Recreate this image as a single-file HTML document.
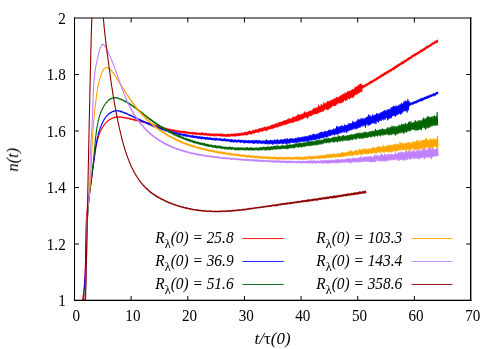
<!DOCTYPE html>
<html>
<head>
<meta charset="utf-8">
<title>n(t) versus t/&tau;(0)</title>
<style>
html,body{margin:0;padding:0;background:#ffffff;}
body{width:498px;height:349px;overflow:hidden;font-family:"Liberation Serif",serif;}
svg{display:block;}
text{font-family:"Liberation Serif",serif;font-size:16px;fill:#000;}
.it{font-style:italic;}
.sub{font-size:12.8px;font-style:normal;}
.up{font-style:normal;}
</style>
</head>
<body>
<svg width="498" height="349" viewBox="0 0 498 349">
<rect x="0" y="0" width="498" height="349" fill="#ffffff"/>
<defs><clipPath id="plotclip"><rect x="74.5" y="18" width="396.5" height="282.5"/></clipPath></defs>
<g clip-path="url(#plotclip)">
<path d="M82.5,300.5L82.6,299.8L82.7,299.1L82.8,298.4L82.9,297.7L83.0,297.0L83.1,296.3L83.2,295.6L83.3,294.9L83.4,294.2L83.5,293.5L83.6,292.8L83.7,292.1L83.8,291.3L83.9,290.6L83.9,289.9L84.0,289.2L84.1,288.5L84.1,287.8L84.2,287.1L84.3,286.4L84.3,285.7L84.4,285.0L84.5,284.3L84.5,283.6L84.6,282.9L84.6,282.2L84.7,281.5L84.7,280.8L84.8,280.1L84.8,279.4L84.9,278.7L84.9,278.0L84.9,277.3L85.0,276.6L85.0,275.9L85.1,275.2L85.1,274.5L85.1,273.8L85.1,273.1L85.2,272.4L85.2,271.7L85.2,271.0L85.3,270.3L85.3,269.6L85.3,268.9L85.3,268.2L85.3,267.5L85.4,266.8L85.4,266.1L85.4,265.4L85.4,264.7L85.4,264.0L85.4,263.3L85.5,262.6L85.5,261.9L85.5,261.2L85.5,260.5L85.5,259.8L85.5,259.1L85.5,258.4L85.5,257.7L85.5,257.0L85.5,256.3L85.5,255.6L85.6,254.9L85.6,254.2L85.6,253.5L85.6,252.9L85.6,252.1L85.6,251.5L85.6,250.8L85.6,250.1L85.6,249.4L85.6,248.7L85.6,248.0L85.6,247.3L85.6,246.6L85.6,245.9L85.6,245.2L85.6,244.5L85.6,243.8L85.7,243.1L85.7,242.4L85.7,241.7L85.7,241.0L85.7,240.3L85.7,239.6L85.7,238.9L85.7,238.2L85.7,237.6L85.7,236.9L85.8,236.2L85.8,235.5L85.8,234.8L85.8,234.1L85.8,233.4L85.8,232.7L85.8,232.0L85.9,231.3L85.9,230.6L85.9,229.9L85.9,229.2L86.0,228.5L86.0,227.8L86.0,227.1L86.0,226.5L86.1,225.7L86.1,225.1L86.1,224.4L86.2,223.7L86.2,223.0L86.2,222.3L86.3,221.6L86.3,220.9L86.3,220.2L86.4,219.5L86.4,218.8L86.5,218.1L86.5,217.4L86.6,216.7L86.6,216.0L86.7,215.4L86.7,214.6L86.8,214.0L86.9,213.2L86.9,212.6L87.0,211.9L87.1,211.2L87.1,210.5L87.2,209.8L87.3,209.1L87.4,208.4L87.4,207.7L87.5,207.0L87.6,206.3L87.7,205.6L87.8,204.9L87.9,204.2L88.0,203.5L88.1,202.9L88.2,202.1L88.3,201.5L88.4,200.7L88.5,200.1L88.6,199.3L88.7,198.7L88.8,197.9L88.9,197.3L89.0,196.5L89.1,195.9L89.2,195.1L89.3,194.5L89.4,193.8L89.5,193.1L89.6,192.4L89.8,191.7L89.9,191.0L90.0,190.3L90.1,189.6L90.2,189.0L90.3,188.2L90.4,187.6L90.5,186.8L90.6,186.2L90.7,185.4L90.8,184.8L90.9,184.0L91.0,183.4L91.1,182.6L91.2,182.0L91.3,181.2L91.4,180.6L91.5,179.8L91.6,179.2L91.7,178.4L91.8,177.8L91.8,177.0L91.9,176.4L92.0,175.6L92.1,175.0L92.2,174.2L92.3,173.6L92.4,172.8L92.5,172.2L92.6,171.4L92.6,170.8L92.7,170.0L92.8,169.4L92.9,168.6L93.0,168.0L93.1,167.2L93.2,166.6L93.3,165.8L93.3,165.2L93.4,164.4L93.5,163.8L93.6,163.0L93.7,162.4L93.8,161.6L93.9,161.0L94.0,160.2L94.1,159.6L94.2,158.8L94.3,158.2L94.4,157.4L94.5,156.8L94.6,155.9L94.7,155.4L94.8,154.5L94.9,154.0L95.0,153.1L95.1,152.6L95.2,151.7L95.3,151.2L95.4,150.3L95.5,149.8L95.6,148.9L95.8,148.4L95.9,147.5L96.0,147.0L96.1,146.1L96.3,145.6L96.4,144.7L96.6,144.2L96.7,143.4L96.9,142.9L97.0,142.0L97.2,141.5L97.3,140.6L97.5,140.1L97.7,139.3L97.9,138.8L98.1,137.9L98.3,137.5L98.5,136.6L98.7,136.2L98.9,135.3L99.1,134.9L99.3,134.0L99.6,133.6L99.8,132.7L100.1,132.3L100.3,131.5L100.6,131.1L100.9,130.3L101.2,129.9L101.5,129.0L101.8,128.7L102.1,127.8L102.4,127.5L102.8,126.7L103.2,126.3L103.5,125.5L104.0,125.2L104.4,124.4L104.8,124.1L105.3,123.3L105.8,123.1L106.3,122.2L106.8,122.0L107.3,121.2L107.9,121.1L108.5,120.3L109.1,120.1L109.7,119.4L110.3,119.4L110.9,118.7L111.5,118.8L112.2,118.0L112.9,118.2L113.5,117.5L114.2,117.8L114.9,117.1L115.6,117.5L116.2,116.8L116.9,117.3L117.6,116.7L118.3,117.3L119.0,116.7L119.7,117.3L120.4,116.8L121.1,117.3L121.8,116.9L122.4,117.6L123.1,117.1L123.8,117.9L124.5,117.3L125.2,118.1L125.9,117.5L126.5,118.3L127.2,117.9L127.9,118.7L128.6,118.1L129.3,119.0L129.9,118.4L130.6,119.4L131.3,118.7L132.0,119.7L132.6,119.1L133.3,120.0L134.0,119.4L134.7,120.3L135.3,119.6L136.0,120.6L136.7,120.0L137.4,120.9L138.0,120.3L138.7,121.2L139.4,120.5L140.0,121.7L140.7,120.9L141.4,121.9L142.1,121.0L142.7,122.2L143.4,121.3L144.1,122.7L144.7,121.8L145.4,122.9L146.1,122.1L146.8,123.4L147.4,122.6L148.1,123.7L148.8,122.8L149.4,124.2L150.1,123.2L150.8,124.4L151.5,123.6L152.1,125.1L152.8,124.2L153.5,125.5L154.2,124.6L154.8,126.0L155.5,125.1L156.2,126.5L156.9,125.4L157.5,127.2L158.2,126.1L158.9,127.4L159.6,126.5L160.2,127.8L160.9,126.9L161.6,128.3L162.3,127.2L163.0,128.6L163.6,127.3L164.3,129.2L165.0,127.9L165.7,129.4L166.4,128.4L167.1,129.9L167.8,128.8L168.4,130.0L169.1,129.0L169.8,130.4L170.5,129.4L171.2,131.1L171.9,129.6L172.6,131.0L173.3,129.8L174.0,131.3L174.6,130.1L175.3,131.6L176.0,130.3L176.7,132.2L177.4,130.6L178.1,132.1L178.8,130.7L179.5,132.5L180.2,131.1L180.9,132.5L181.6,131.3L182.3,132.9L183.0,131.0L183.7,132.9L184.4,131.4L185.0,133.1L185.7,131.5L186.4,133.3L187.1,131.7L187.8,133.4L188.5,132.1L189.2,133.7L189.9,132.3L190.6,133.7L191.3,132.3L192.0,134.1L192.7,132.3L193.4,134.2L194.1,132.5L194.8,134.3L195.5,132.5L196.2,134.5L196.9,132.7L197.6,134.4L198.3,133.0L199.0,134.7L199.7,133.1L200.4,134.9L201.1,132.8L201.8,134.8L202.5,132.8L203.2,134.9L203.9,133.3L204.6,135.0L205.3,133.2L206.0,135.3L206.7,133.4L207.4,135.3L208.1,133.5L208.8,135.5L209.5,133.6L210.2,135.7L210.9,133.8L211.6,135.6L212.3,133.8L213.0,135.9L213.7,134.0L214.4,135.9L215.1,133.8L215.8,135.9L216.5,133.9L217.2,135.8L217.9,134.0L218.6,135.8L219.3,133.9L220.0,136.0L220.7,133.9L221.4,136.2L222.1,133.8L222.7,136.2L223.4,134.4L224.1,136.2L224.8,134.2L225.5,136.4L226.2,134.4L226.9,136.5L227.6,134.1L228.3,136.2L229.0,134.3L229.7,136.5L230.4,134.2L231.1,136.0L231.8,133.9L232.5,135.9L233.1,134.0L233.8,136.1L234.5,133.8L235.2,136.3L235.9,133.6L236.6,135.8L237.3,133.6L238.0,135.8L238.7,133.4L239.4,135.6L240.0,133.3L240.7,135.4L241.4,133.1L242.1,135.3L242.8,132.9L243.5,135.0L244.2,132.5L244.8,134.8L245.5,132.4L246.2,135.2L246.9,132.1L247.6,134.6L248.3,131.6L249.0,134.1L249.6,130.9L250.3,134.0L251.0,131.2L251.7,134.2L252.4,130.7L253.1,133.3L253.7,130.3L254.4,133.1L255.1,129.6L255.8,132.6L256.5,129.9L257.1,132.2L257.8,129.5L258.5,132.4L259.2,128.6L259.9,131.6L260.5,128.6L261.2,131.2L261.9,128.1L262.6,131.3L263.2,127.5L263.9,130.5L264.6,127.1L265.3,130.5L265.9,127.0L266.6,130.6L267.3,126.9L268.0,129.8L268.6,126.3L269.3,129.2L270.0,126.0L270.7,128.8L271.3,125.1L272.0,128.7L272.7,124.9L273.3,128.3L274.0,124.5L274.7,127.6L275.4,123.9L276.0,127.1L276.7,123.7L277.4,127.2L278.0,122.8L278.7,126.2L279.4,122.4L280.0,126.5L280.7,122.2L281.4,125.5L282.0,121.5L282.7,125.2L283.4,121.0L284.0,124.9L284.7,120.6L285.4,124.4L286.0,120.2L286.7,124.3L287.4,119.6L288.0,123.5L288.7,118.8L289.3,123.2L290.0,118.9L290.7,122.7L291.3,118.7L292.0,122.5L292.6,117.4L293.3,122.4L294.0,116.7L294.6,121.3L295.3,116.8L295.9,121.5L296.6,116.1L297.2,121.3L297.9,114.6L298.6,120.5L299.2,114.8L299.9,120.2L300.5,114.7L301.2,119.1L301.8,114.1L302.5,118.9L303.1,113.9L303.8,118.4L304.4,111.9L305.1,117.5L305.7,112.8L306.4,117.1L307.0,112.1L307.7,118.4L308.3,111.8L309.0,116.1L309.6,111.1L310.3,115.9L310.9,110.7L311.6,115.4L312.2,110.0L312.9,114.7L313.5,108.6L314.2,114.0L314.8,108.2L315.5,113.8L316.1,107.9L316.7,113.8L317.4,107.6L318.0,113.4L318.7,105.1L319.3,112.5L320.0,106.6L320.6,112.0L321.2,104.3L321.9,111.6L322.5,105.2L323.2,111.3L323.8,102.6L324.4,109.6L325.1,103.8L325.7,108.9L326.3,102.5L327.0,109.6L327.6,101.6L328.2,109.6L328.9,101.4L329.5,108.1L330.1,100.9L330.8,107.9L331.4,100.2L332.0,106.4L332.7,99.7L333.3,105.4L333.9,98.8L334.6,105.8L335.2,98.6L335.8,105.4L336.4,97.4L337.1,104.1L337.7,97.8L338.3,103.1L338.9,97.0L339.6,102.8L340.2,95.9L340.8,103.2L341.4,95.5L342.1,102.5L342.7,94.2L343.3,101.8L343.9,94.0L344.6,99.8L345.2,92.7L345.8,100.8L346.4,93.0L347.0,99.9L347.7,91.5L348.3,98.3L348.9,91.5L349.5,98.9L350.1,90.8L350.7,97.8L351.4,90.3L352.0,97.4L352.6,89.6L353.2,97.5L353.8,89.1L354.4,95.6L355.0,87.0L355.6,94.2L356.3,87.3L356.9,94.7L357.5,86.0L358.1,93.2L358.7,85.3L359.3,92.8L359.9,84.2L360.5,91.8L361.1,83.7L361.7,91.7L362.3,85.3L362.9,87.9L363.5,85.5L364.2,87.3L364.8,84.9L365.4,86.3L366.0,84.0L366.6,85.9L367.2,83.6L367.8,85.2L368.4,82.9L369.0,84.4L369.6,81.9L370.2,83.7L370.8,81.1L371.4,82.9L372.0,80.8L372.6,82.5L373.2,80.0L373.8,81.4L374.4,79.4L375.0,80.8L375.6,78.6L376.2,80.2L376.8,77.6L377.4,79.3L378.0,77.0L378.6,78.7L379.2,76.5L379.8,77.8L380.4,75.4L381.0,77.2L381.5,74.7L382.1,76.3L382.7,74.1L383.3,75.9L383.9,73.2L384.5,74.8L385.1,72.3L385.7,74.6L386.3,71.8L386.9,73.4L387.5,71.3L388.1,73.0L388.7,70.4L389.3,72.1L389.9,69.5L390.5,71.3L391.1,69.2L391.6,70.9L392.2,68.4L392.8,69.7L393.4,67.4L394.0,69.6L394.6,66.7L395.2,68.4L395.8,65.7L396.4,67.7L397.0,65.1L397.6,66.9L398.2,64.4L398.7,66.2L399.3,63.9L399.9,65.4L400.5,63.0L401.1,64.5L401.7,61.9L402.3,64.0L402.9,61.7L403.5,63.5L404.1,60.6L404.7,62.4L405.2,60.1L405.8,61.6L406.4,59.2L407.0,61.0L407.6,58.5L408.2,60.0L408.8,57.6L409.4,59.6L410.0,57.2L410.6,58.5L411.2,56.1L411.7,58.1L412.3,55.3L412.9,56.9L413.5,54.8L414.1,56.3L414.7,53.7L415.3,55.9L415.9,53.5L416.5,54.8L417.1,52.5L417.7,54.2L418.3,51.7L418.9,53.7L419.4,51.2L420.0,52.6L420.6,50.1L421.2,52.0L421.8,49.7L422.4,51.3L423.0,48.9L423.6,50.6L424.2,48.3L424.8,49.9L425.4,47.1L426.0,48.9L426.6,46.5L427.2,48.2L427.8,46.0L428.4,47.6L429.0,45.2L429.5,46.5L430.1,44.5L430.7,46.2L431.3,43.6L431.9,45.2L432.5,42.8L433.1,44.4L433.7,42.4L434.3,43.7L434.9,41.3L435.5,43.0L436.1,40.7L436.7,42.8L437.3,40.0L437.9,42.1" fill="none" stroke="#ff0000" stroke-width="1.1" stroke-linejoin="round" stroke-linecap="butt"/>
<path d="M83.5,300.5L83.6,299.8L83.6,299.1L83.7,298.4L83.8,297.7L83.8,297.0L83.9,296.3L83.9,295.6L84.0,294.9L84.0,294.2L84.1,293.5L84.1,292.8L84.2,292.1L84.2,291.4L84.3,290.7L84.3,290.0L84.4,289.3L84.4,288.6L84.5,287.9L84.5,287.2L84.6,286.5L84.6,285.8L84.7,285.1L84.7,284.4L84.7,283.7L84.8,283.0L84.8,282.3L84.8,281.6L84.9,280.9L84.9,280.2L85.0,279.5L85.0,278.8L85.0,278.1L85.1,277.4L85.1,276.7L85.1,276.0L85.2,275.3L85.2,274.6L85.2,273.9L85.3,273.2L85.3,272.5L85.3,271.8L85.3,271.1L85.4,270.4L85.4,269.7L85.4,269.0L85.4,268.3L85.5,267.6L85.5,266.9L85.5,266.2L85.6,265.5L85.6,264.8L85.6,264.1L85.6,263.4L85.7,262.7L85.7,262.0L85.7,261.3L85.7,260.6L85.7,259.9L85.8,259.2L85.8,258.5L85.8,257.8L85.8,257.2L85.9,256.4L85.9,255.8L85.9,255.0L85.9,254.4L85.9,253.6L86.0,253.0L86.0,252.2L86.0,251.6L86.0,250.8L86.1,250.2L86.1,249.4L86.1,248.8L86.1,248.0L86.1,247.4L86.2,246.6L86.2,246.0L86.2,245.3L86.2,244.6L86.3,243.9L86.3,243.2L86.3,242.5L86.3,241.8L86.4,241.1L86.4,240.4L86.4,239.7L86.4,239.0L86.5,238.3L86.5,237.6L86.5,236.9L86.5,236.2L86.6,235.5L86.6,234.8L86.6,234.1L86.6,233.4L86.7,232.7L86.7,232.0L86.7,231.3L86.8,230.6L86.8,229.9L86.8,229.2L86.9,228.5L86.9,227.8L86.9,227.1L87.0,226.4L87.0,225.7L87.0,225.0L87.1,224.3L87.1,223.6L87.1,222.9L87.2,222.2L87.2,221.5L87.3,220.8L87.3,220.1L87.3,219.4L87.4,218.7L87.4,218.0L87.5,217.3L87.5,216.6L87.6,215.9L87.6,215.2L87.7,214.5L87.7,213.9L87.8,213.1L87.8,212.5L87.9,211.7L87.9,211.1L88.0,210.3L88.0,209.7L88.1,208.9L88.1,208.3L88.2,207.5L88.3,206.9L88.3,206.1L88.4,205.5L88.4,204.7L88.5,204.1L88.6,203.3L88.6,202.7L88.7,201.9L88.8,201.3L88.8,200.5L88.9,199.9L89.0,199.1L89.1,198.5L89.1,197.8L89.2,197.1L89.3,196.4L89.4,195.7L89.4,195.0L89.5,194.3L89.6,193.6L89.7,193.0L89.8,192.2L89.8,191.6L89.9,190.8L90.0,190.2L90.1,189.4L90.2,188.8L90.2,188.0L90.3,187.4L90.4,186.6L90.5,186.0L90.6,185.2L90.7,184.6L90.8,183.8L90.9,183.2L90.9,182.4L91.0,181.8L91.1,181.0L91.2,180.4L91.3,179.6L91.4,179.1L91.5,178.3L91.6,177.7L91.7,176.9L91.8,176.3L91.9,175.5L92.0,174.9L92.0,174.1L92.1,173.5L92.2,172.7L92.3,172.1L92.4,171.3L92.5,170.7L92.6,169.9L92.7,169.3L92.8,168.5L92.9,167.9L93.0,167.1L93.1,166.6L93.2,165.7L93.3,165.2L93.4,164.4L93.5,163.8L93.6,162.9L93.7,162.4L93.7,161.5L93.8,161.0L93.9,160.2L94.0,159.6L94.1,158.8L94.2,158.2L94.3,157.4L94.4,156.9L94.5,156.0L94.6,155.5L94.7,154.6L94.8,154.1L94.9,153.2L95.0,152.7L95.0,151.8L95.1,151.3L95.2,150.5L95.3,149.9L95.4,149.1L95.5,148.6L95.6,147.7L95.7,147.2L95.8,146.3L95.9,145.8L96.1,144.9L96.2,144.4L96.3,143.6L96.4,143.0L96.5,142.2L96.6,141.7L96.8,140.8L96.9,140.3L97.0,139.5L97.2,139.0L97.3,138.1L97.5,137.6L97.6,136.7L97.8,136.2L98.0,135.4L98.1,134.9L98.3,134.0L98.5,133.6L98.7,132.6L98.9,132.2L99.1,131.3L99.3,130.9L99.5,130.0L99.7,129.5L100.0,128.7L100.2,128.2L100.4,127.3L100.7,126.9L101.0,126.0L101.2,125.6L101.5,124.7L101.8,124.3L102.1,123.4L102.4,123.0L102.7,122.1L103.0,121.7L103.4,120.8L103.7,120.5L104.1,119.5L104.4,119.2L104.8,118.3L105.2,118.0L105.6,117.1L106.1,116.9L106.5,116.0L107.0,115.8L107.5,114.9L108.0,114.8L108.6,113.9L109.1,113.9L109.7,113.0L110.3,113.1L110.9,112.3L111.5,112.5L112.2,111.6L112.8,111.8L113.5,111.1L114.1,111.4L114.8,110.8L115.4,111.1L116.1,110.6L116.7,111.0L117.4,110.6L118.1,111.1L118.7,110.6L119.4,111.3L120.0,110.9L120.6,111.8L121.3,111.2L121.9,112.1L122.6,111.7L123.2,112.6L123.9,112.3L124.5,113.1L125.2,112.7L125.8,113.6L126.4,113.2L127.1,114.2L127.7,113.9L128.4,114.9L129.0,114.5L129.6,115.4L130.3,115.0L130.9,116.0L131.6,115.5L132.2,116.6L132.8,116.2L133.5,117.2L134.1,116.8L134.7,118.0L135.4,117.2L136.0,118.4L136.7,118.1L137.3,119.0L137.9,118.5L138.6,119.7L139.2,119.2L139.8,120.5L140.5,119.6L141.1,120.8L141.8,120.4L142.4,121.6L143.0,120.9L143.7,122.2L144.3,121.5L145.0,122.6L145.6,122.1L146.2,123.2L146.9,122.6L147.5,123.9L148.2,123.2L148.8,124.6L149.5,123.7L150.1,124.9L150.8,124.3L151.4,125.7L152.1,124.9L152.7,126.2L153.4,125.3L154.0,126.9L154.7,125.6L155.3,127.1L156.0,126.3L156.6,127.8L157.3,126.8L158.0,128.3L158.6,127.4L159.3,128.8L159.9,127.8L160.6,129.1L161.3,128.1L161.9,129.7L162.6,128.6L163.3,130.0L163.9,129.1L164.6,130.5L165.3,129.6L165.9,131.1L166.6,129.9L167.3,131.3L167.9,130.2L168.6,132.0L169.3,130.6L169.9,132.2L170.6,131.2L171.3,132.6L172.0,131.4L172.6,133.4L173.3,131.7L174.0,133.5L174.7,132.2L175.3,133.8L176.0,132.4L176.7,134.1L177.4,133.0L178.1,134.3L178.7,133.3L179.4,134.7L180.1,133.5L180.8,135.1L181.5,133.9L182.2,135.2L182.8,134.0L183.5,135.7L184.2,134.2L184.9,136.0L185.6,134.2L186.3,136.5L187.0,134.7L187.6,136.3L188.3,135.1L189.0,136.8L189.7,135.4L190.4,137.0L191.1,135.6L191.8,137.2L192.5,135.6L193.2,137.5L193.8,135.9L194.5,137.6L195.2,136.0L195.9,137.9L196.6,136.3L197.3,138.2L198.0,136.4L198.7,138.4L199.4,136.6L200.1,138.6L200.8,136.8L201.5,139.0L202.2,136.8L202.9,138.6L203.6,137.2L204.2,139.0L204.9,137.2L205.6,139.2L206.3,137.4L207.0,139.4L207.7,137.4L208.4,139.4L209.1,137.6L209.8,139.5L210.5,137.7L211.2,139.7L211.9,138.1L212.6,139.8L213.3,138.2L214.0,140.0L214.7,138.4L215.4,140.3L216.1,137.9L216.8,140.1L217.5,138.7L218.2,140.2L218.9,138.4L219.6,140.3L220.3,138.6L221.0,140.6L221.7,139.0L222.4,140.7L223.1,138.9L223.8,140.7L224.5,138.6L225.2,141.1L225.9,139.3L226.6,141.0L227.3,139.2L228.0,141.3L228.7,139.5L229.4,141.3L230.1,139.5L230.8,142.0L231.5,139.6L232.2,141.8L232.9,139.7L233.6,142.1L234.3,139.8L235.0,141.9L235.7,139.9L236.4,142.4L237.1,140.1L237.8,142.0L238.5,139.9L239.2,142.1L239.9,140.0L240.6,142.5L241.3,140.2L242.0,142.2L242.7,140.2L243.4,142.6L244.1,140.5L244.8,143.1L245.5,140.4L246.2,142.5L246.9,140.7L247.6,142.7L248.3,140.4L249.0,143.1L249.7,140.7L250.4,142.7L251.1,140.5L251.8,143.0L252.5,140.6L253.2,143.4L253.9,140.3L254.6,143.5L255.3,140.4L255.9,143.0L256.6,140.4L257.3,143.5L258.0,140.3L258.7,143.2L259.4,140.6L260.1,143.4L260.8,140.7L261.5,143.4L262.2,140.8L262.9,143.4L263.6,140.9L264.3,143.7L265.0,140.6L265.7,143.8L266.4,139.9L267.1,144.0L267.8,140.6L268.5,144.0L269.2,140.5L269.9,143.9L270.6,140.2L271.3,143.7L272.0,140.4L272.7,144.4L273.4,140.6L274.1,143.8L274.8,139.9L275.5,143.5L276.2,140.0L276.9,144.1L277.6,139.6L278.2,143.5L278.9,140.2L279.6,143.6L280.3,139.9L281.0,143.5L281.7,139.5L282.4,143.7L283.1,139.5L283.8,143.6L284.5,139.4L285.2,143.5L285.9,138.9L286.6,143.7L287.3,138.7L288.0,143.5L288.7,139.4L289.4,143.1L290.0,138.6L290.7,142.8L291.4,138.6L292.1,142.5L292.8,138.8L293.5,142.7L294.2,138.7L294.9,142.5L295.6,138.4L296.3,142.8L297.0,138.1L297.6,142.2L298.3,137.3L299.0,142.2L299.7,137.9L300.4,141.7L301.1,137.0L301.8,141.4L302.5,137.2L303.2,141.7L303.9,136.7L304.5,141.1L305.2,136.3L305.9,141.3L306.6,136.6L307.3,141.4L308.0,136.0L308.7,141.1L309.4,135.2L310.0,140.2L310.7,135.5L311.4,140.3L312.1,134.5L312.8,140.2L313.5,134.1L314.2,139.8L314.8,134.5L315.5,139.8L316.2,134.1L316.9,139.3L317.6,134.0L318.3,138.6L319.0,133.1L319.6,138.9L320.3,132.4L321.0,138.1L321.7,132.1L322.4,137.7L323.1,132.2L323.7,138.0L324.4,131.4L325.1,137.0L325.8,131.4L326.5,137.1L327.1,131.4L327.8,136.8L328.5,130.2L329.2,135.9L329.9,129.8L330.5,135.5L331.2,130.1L331.9,135.2L332.6,129.8L333.3,134.4L333.9,128.9L334.6,135.0L335.3,128.8L336.0,134.2L336.6,126.3L337.3,134.2L338.0,126.9L338.7,133.7L339.3,126.9L340.0,133.1L340.7,126.4L341.4,132.6L342.0,125.3L342.7,131.9L343.4,126.3L344.1,132.7L344.7,124.8L345.4,131.5L346.1,125.2L346.8,132.6L347.4,125.0L348.1,131.3L348.8,123.6L349.4,130.3L350.1,123.5L350.8,130.3L351.4,123.6L352.1,129.8L352.8,121.3L353.5,128.7L354.1,122.1L354.8,128.7L355.5,122.2L356.1,129.0L356.8,120.7L357.5,128.3L358.1,119.0L358.8,127.4L359.5,119.7L360.1,127.4L360.8,118.7L361.4,125.9L362.1,118.2L362.8,126.1L363.4,119.1L364.1,125.5L364.8,118.3L365.4,127.2L366.1,117.6L366.7,124.2L367.4,116.8L368.1,125.7L368.7,114.9L369.4,124.6L370.0,115.6L370.7,124.4L371.4,116.6L372.0,123.3L372.7,114.7L373.3,123.0L374.0,115.6L374.6,123.2L375.3,114.9L376.0,123.7L376.6,113.6L377.3,121.4L377.9,113.9L378.6,122.1L379.2,113.8L379.9,120.4L380.5,112.8L381.2,120.6L381.8,112.2L382.5,119.3L383.1,111.4L383.8,120.0L384.4,110.6L385.1,119.2L385.8,110.9L386.4,117.8L387.1,109.9L387.7,119.9L388.4,109.6L389.0,118.7L389.6,109.5L390.3,118.0L390.9,107.9L391.6,117.7L392.2,107.0L392.9,115.8L393.5,106.4L394.2,115.7L394.8,106.3L395.5,116.3L396.1,105.9L396.8,115.0L397.4,106.4L398.1,114.5L398.7,105.4L399.4,113.5L400.0,104.6L400.7,114.2L401.3,103.4L401.9,113.2L402.6,103.8L403.2,111.7L403.9,101.7L404.5,110.8L405.2,100.9L405.8,110.9L406.5,101.5L407.1,112.1L407.8,99.3L408.4,109.9L409.0,101.2L409.7,105.7L410.3,103.1L411.0,104.9L411.6,102.8L412.3,104.3L412.9,102.2L413.6,104.0L414.2,101.5L414.8,103.2L415.5,101.2L416.1,103.0L416.8,100.6L417.4,102.5L418.1,99.9L418.7,101.6L419.4,99.5L420.0,101.4L420.7,98.6L421.3,100.8L421.9,98.2L422.6,100.6L423.2,97.9L423.9,99.8L424.5,97.4L425.2,98.9L425.8,96.9L426.5,98.6L427.1,96.1L427.7,98.1L428.4,95.9L429.0,97.7L429.7,95.3L430.3,96.9L431.0,94.7L431.6,96.4L432.3,94.4L432.9,96.0L433.6,93.6L434.2,95.6L434.9,93.3L435.5,95.1L436.2,92.5L436.8,94.2L437.4,92.1L438.1,93.9" fill="none" stroke="#0000ff" stroke-width="1.1" stroke-linejoin="round" stroke-linecap="butt"/>
<path d="M84.0,300.5L84.1,299.8L84.2,299.1L84.2,298.4L84.3,297.7L84.4,297.0L84.5,296.3L84.5,295.6L84.6,294.9L84.7,294.2L84.7,293.5L84.8,292.8L84.9,292.1L84.9,291.4L85.0,290.7L85.0,290.0L85.1,289.3L85.1,288.6L85.2,287.9L85.2,287.2L85.3,286.5L85.3,285.8L85.4,285.1L85.4,284.4L85.5,283.7L85.5,283.0L85.6,282.3L85.6,281.6L85.6,280.9L85.7,280.2L85.7,279.5L85.8,278.8L85.8,278.1L85.8,277.4L85.9,276.7L85.9,276.0L85.9,275.3L85.9,274.6L86.0,273.9L86.0,273.2L86.0,272.5L86.1,271.8L86.1,271.1L86.1,270.4L86.1,269.7L86.2,269.0L86.2,268.3L86.2,267.6L86.2,266.9L86.2,266.2L86.3,265.5L86.3,264.8L86.3,264.2L86.3,263.4L86.3,262.8L86.3,262.0L86.4,261.4L86.4,260.6L86.4,260.0L86.4,259.2L86.4,258.6L86.4,257.8L86.4,257.2L86.5,256.4L86.5,255.8L86.5,255.0L86.5,254.4L86.5,253.6L86.5,253.0L86.5,252.2L86.5,251.6L86.6,250.8L86.6,250.2L86.6,249.4L86.6,248.8L86.6,248.0L86.6,247.4L86.6,246.6L86.6,246.0L86.7,245.2L86.7,244.6L86.7,243.8L86.7,243.2L86.7,242.4L86.7,241.8L86.7,241.1L86.7,240.4L86.8,239.6L86.8,239.0L86.8,238.3L86.8,237.6L86.8,236.9L86.8,236.2L86.8,235.5L86.9,234.8L86.9,234.1L86.9,233.4L86.9,232.7L86.9,232.0L86.9,231.3L87.0,230.6L87.0,229.9L87.0,229.2L87.0,228.5L87.1,227.8L87.1,227.1L87.1,226.4L87.1,225.7L87.2,225.0L87.2,224.3L87.2,223.6L87.2,222.9L87.3,222.2L87.3,221.5L87.3,220.8L87.4,220.1L87.4,219.4L87.4,218.7L87.5,218.0L87.5,217.3L87.5,216.6L87.6,215.9L87.6,215.2L87.6,214.5L87.7,213.8L87.7,213.1L87.8,212.4L87.8,211.7L87.9,211.0L87.9,210.3L88.0,209.6L88.0,208.9L88.1,208.3L88.1,207.5L88.2,206.9L88.2,206.1L88.3,205.5L88.4,204.7L88.4,204.1L88.5,203.3L88.6,202.7L88.6,201.9L88.7,201.3L88.8,200.5L88.8,199.9L88.9,199.1L89.0,198.5L89.0,197.7L89.1,197.1L89.2,196.3L89.3,195.7L89.3,194.9L89.4,194.3L89.5,193.6L89.6,192.9L89.7,192.2L89.7,191.5L89.8,190.8L89.9,190.1L90.0,189.4L90.1,188.7L90.2,188.0L90.2,187.3L90.3,186.6L90.4,186.0L90.5,185.2L90.6,184.6L90.7,183.8L90.8,183.2L90.8,182.4L90.9,181.8L91.0,181.0L91.1,180.4L91.2,179.6L91.3,179.0L91.4,178.2L91.5,177.6L91.6,176.8L91.6,176.2L91.7,175.4L91.8,174.8L91.9,174.0L92.0,173.4L92.1,172.6L92.2,172.1L92.2,171.2L92.3,170.6L92.4,169.8L92.5,169.3L92.6,168.4L92.7,167.9L92.8,167.1L92.8,166.5L92.9,165.7L93.0,165.1L93.1,164.3L93.2,163.7L93.2,162.9L93.3,162.3L93.4,161.5L93.5,160.9L93.5,160.1L93.6,159.5L93.7,158.7L93.7,158.1L93.8,157.3L93.9,156.8L94.0,155.9L94.0,155.4L94.1,154.5L94.1,154.0L94.2,153.2L94.3,152.6L94.3,151.7L94.4,151.2L94.4,150.4L94.5,149.9L94.6,149.0L94.6,148.4L94.7,147.6L94.7,147.1L94.8,146.2L94.9,145.7L94.9,144.8L95.0,144.3L95.0,143.4L95.1,142.9L95.2,142.1L95.2,141.5L95.3,140.6L95.4,140.1L95.4,139.2L95.5,138.7L95.6,137.9L95.7,137.4L95.7,136.5L95.8,136.0L95.9,135.1L96.0,134.6L96.1,133.7L96.2,133.2L96.2,132.3L96.3,131.8L96.4,130.9L96.5,130.4L96.6,129.5L96.8,129.0L96.9,128.2L97.0,127.7L97.1,126.8L97.2,126.3L97.3,125.4L97.5,124.9L97.6,124.0L97.8,123.5L97.9,122.6L98.0,122.2L98.2,121.2L98.4,120.8L98.5,119.9L98.7,119.4L98.9,118.5L99.0,118.0L99.2,117.1L99.4,116.6L99.6,115.7L99.8,115.3L100.1,114.4L100.3,114.0L100.5,113.0L100.8,112.6L101.0,111.7L101.3,111.2L101.6,110.4L101.9,110.0L102.2,109.1L102.5,108.7L102.8,107.8L103.1,107.5L103.5,106.6L103.8,106.3L104.2,105.4L104.6,105.1L105.0,104.2L105.5,103.9L105.9,103.1L106.3,102.8L106.8,101.9L107.3,101.8L107.8,101.0L108.3,100.8L108.9,99.9L109.4,99.9L110.0,99.1L110.6,99.2L111.2,98.4L111.8,98.6L112.4,97.9L113.0,98.1L113.6,97.5L114.2,98.0L114.9,97.5L115.5,97.9L116.2,97.5L116.8,98.2L117.5,97.9L118.1,98.5L118.8,98.3L119.4,99.0L120.1,98.7L120.7,99.5L121.4,99.3L122.0,100.1L122.7,99.8L123.3,100.7L124.0,100.5L124.6,101.5L125.3,101.1L125.9,102.1L126.5,101.9L127.2,102.8L127.8,102.4L128.4,103.6L129.1,103.2L129.7,104.3L130.3,104.0L130.9,105.2L131.5,104.8L132.1,105.9L132.7,105.5L133.3,106.9L133.9,106.3L134.4,107.6L135.0,107.2L135.6,108.3L136.1,108.1L136.7,109.3L137.3,108.8L137.8,110.2L138.4,109.6L138.9,110.9L139.5,110.6L140.0,111.8L140.6,111.2L141.1,112.8L141.6,112.0L142.2,113.7L142.7,113.0L143.3,114.5L143.8,113.9L144.3,115.4L144.9,114.8L145.4,116.1L146.0,115.6L146.5,117.1L147.0,116.5L147.6,118.0L148.1,117.4L148.7,118.6L149.2,118.2L149.8,119.7L150.3,118.9L150.9,120.5L151.4,119.7L152.0,121.2L152.6,120.5L153.1,122.1L153.7,121.5L154.3,123.0L154.8,122.1L155.4,123.6L156.0,122.9L156.6,124.4L157.1,123.8L157.7,125.5L158.3,124.4L158.9,126.0L159.5,125.0L160.1,126.9L160.7,126.0L161.3,127.7L161.9,126.7L162.5,128.3L163.1,127.3L163.7,129.2L164.3,128.2L164.9,129.9L165.5,128.8L166.1,130.4L166.8,129.5L167.4,131.1L168.0,130.2L168.6,131.9L169.2,130.8L169.9,132.8L170.5,131.7L171.1,133.2L171.7,132.2L172.4,133.9L173.0,132.7L173.6,134.8L174.3,133.5L174.9,135.2L175.5,134.1L176.2,135.8L176.8,134.8L177.5,136.6L178.1,135.0L178.8,137.0L179.4,135.5L180.0,137.5L180.7,136.2L181.3,137.9L182.0,136.8L182.6,138.6L183.3,137.3L183.9,139.1L184.6,138.0L185.3,139.8L185.9,138.2L186.6,140.3L187.2,138.8L187.9,140.7L188.5,139.1L189.2,141.1L189.9,139.6L190.5,141.6L191.2,140.3L191.9,141.8L192.5,140.6L193.2,142.7L193.9,140.9L194.5,142.8L195.2,141.2L195.9,143.3L196.5,141.9L197.2,143.5L197.9,141.9L198.5,144.0L199.2,142.6L199.9,144.4L200.6,142.9L201.3,144.7L201.9,142.9L202.6,144.8L203.3,143.3L204.0,145.3L204.6,143.5L205.3,145.8L206.0,143.9L206.7,146.0L207.4,144.2L208.1,146.4L208.7,144.5L209.4,146.4L210.1,144.9L210.8,146.7L211.5,144.9L212.2,147.2L212.9,145.4L213.5,147.2L214.2,145.5L214.9,147.5L215.6,145.5L216.3,148.0L217.0,145.8L217.7,147.7L218.4,146.1L219.1,147.9L219.8,145.9L220.5,148.3L221.1,146.3L221.8,148.6L222.5,146.6L223.2,148.6L223.9,147.0L224.6,148.9L225.3,146.9L226.0,149.1L226.7,147.2L227.4,149.1L228.1,147.2L228.8,149.2L229.5,146.9L230.2,149.4L230.9,147.2L231.6,149.2L232.3,147.3L233.0,149.3L233.7,147.8L234.4,149.5L235.1,147.7L235.8,150.1L236.5,147.7L237.2,149.7L237.9,147.6L238.6,150.0L239.3,147.8L240.0,149.9L240.7,147.7L241.4,149.8L242.1,147.6L242.8,149.8L243.5,148.1L244.2,150.2L244.9,148.1L245.6,150.0L246.3,147.5L247.0,149.9L247.7,147.6L248.4,150.0L249.1,148.1L249.8,150.2L250.5,147.5L251.2,150.0L251.9,147.7L252.6,150.1L253.3,148.0L254.0,150.3L254.7,147.8L255.5,149.9L256.2,147.8L256.9,150.0L257.6,147.9L258.3,150.4L259.0,147.8L259.7,149.9L260.4,147.4L261.1,150.2L261.8,147.3L262.5,149.8L263.2,147.0L263.9,149.7L264.6,147.2L265.3,150.5L266.0,147.0L266.7,149.8L267.4,146.9L268.1,149.9L268.8,146.9L269.5,149.9L270.2,146.9L270.8,149.8L271.5,146.7L272.2,149.7L272.9,146.5L273.6,149.2L274.3,145.8L275.0,149.1L275.7,146.4L276.4,149.3L277.1,145.5L277.8,148.9L278.5,146.0L279.2,149.0L279.9,146.3L280.6,148.8L281.3,145.7L282.0,149.0L282.7,145.4L283.4,148.4L284.1,145.7L284.8,148.5L285.5,145.7L286.2,148.8L286.9,144.3L287.6,148.6L288.3,145.2L288.9,148.4L289.6,144.9L290.3,147.9L291.0,144.5L291.7,147.6L292.4,144.8L293.1,148.1L293.8,144.4L294.5,147.8L295.2,143.6L295.9,147.1L296.6,143.9L297.3,147.0L298.0,143.4L298.7,147.3L299.4,143.0L300.0,146.7L300.7,143.4L301.4,147.1L302.1,142.8L302.8,146.7L303.5,143.0L304.2,146.6L304.9,142.4L305.6,146.2L306.3,142.6L307.0,145.8L307.7,142.2L308.4,145.6L309.0,141.6L309.7,145.6L310.4,141.5L311.1,145.8L311.8,141.3L312.5,144.9L313.2,141.3L313.9,145.4L314.6,141.4L315.3,144.6L316.0,140.6L316.7,144.9L317.4,140.2L318.0,144.6L318.7,140.0L319.4,144.1L320.1,140.4L320.8,144.1L321.5,140.1L322.2,144.0L322.9,139.8L323.6,143.1L324.3,138.7L325.0,143.0L325.6,138.9L326.3,142.7L327.0,138.3L327.7,142.4L328.4,138.3L329.1,143.0L329.8,138.4L330.5,142.0L331.2,138.4L331.9,141.8L332.6,137.5L333.3,142.1L333.9,137.1L334.6,142.0L335.3,137.1L336.0,141.4L336.7,137.3L337.4,142.0L338.1,135.5L338.8,141.2L339.5,136.2L340.2,141.3L340.9,136.5L341.5,140.5L342.2,135.8L342.9,141.1L343.6,135.3L344.3,140.3L345.0,136.1L345.7,140.1L346.4,135.8L347.1,140.6L347.8,135.4L348.5,140.2L349.2,135.2L349.8,140.2L350.5,134.7L351.2,139.8L351.9,134.4L352.6,139.6L353.3,134.7L354.0,138.6L354.7,134.2L355.4,139.3L356.1,133.4L356.8,139.0L357.5,133.5L358.1,138.0L358.8,132.9L359.5,138.5L360.2,133.0L360.9,138.5L361.6,133.3L362.3,138.1L363.0,132.5L363.7,138.1L364.4,132.2L365.1,137.8L365.8,131.8L366.4,137.5L367.1,132.5L367.8,137.7L368.5,132.3L369.2,136.7L369.9,131.2L370.6,136.9L371.3,131.6L372.0,137.0L372.7,130.9L373.4,136.0L374.0,131.2L374.7,136.7L375.4,129.3L376.1,135.6L376.8,130.3L377.5,136.2L378.2,130.3L378.9,135.2L379.6,129.9L380.3,136.2L381.0,129.2L381.6,135.0L382.3,128.8L383.0,135.5L383.7,129.3L384.4,134.7L385.1,129.2L385.8,134.7L386.5,128.7L387.2,134.3L387.8,127.6L388.5,134.8L389.2,127.9L389.9,134.9L390.6,127.3L391.3,134.7L392.0,125.7L392.7,134.0L393.4,126.7L394.0,134.0L394.7,126.3L395.4,135.1L396.1,126.6L396.8,134.1L397.5,126.5L398.2,133.6L398.9,125.1L399.5,132.6L400.2,125.6L400.9,133.0L401.6,124.3L402.3,132.5L403.0,124.0L403.7,133.4L404.3,124.4L405.0,132.2L405.7,123.4L406.4,132.1L407.1,124.0L407.8,131.3L408.5,122.5L409.1,131.0L409.8,121.2L410.5,130.8L411.2,122.0L411.9,129.7L412.6,123.1L413.3,129.4L413.9,122.0L414.6,129.7L415.3,120.6L416.0,130.6L416.7,121.8L417.4,130.0L418.0,120.7L418.7,129.8L419.4,120.6L420.1,129.4L420.8,120.9L421.4,129.9L422.1,119.9L422.8,127.8L423.5,118.1L424.2,127.9L424.9,118.7L425.5,129.3L426.2,117.8L426.9,128.2L427.6,116.9L428.3,127.6L428.9,116.5L429.6,127.2L430.3,117.2L431.0,126.2L431.6,117.0L432.3,125.9L433.0,116.2L433.7,125.2L434.4,115.7L435.0,125.8L435.7,116.6L436.4,125.2L437.1,112.2L437.7,125.6" fill="none" stroke="#006400" stroke-width="1.1" stroke-linejoin="round" stroke-linecap="butt"/>
<path d="M84.5,300.5L84.6,299.8L84.7,299.1L84.7,298.4L84.8,297.7L84.9,297.0L84.9,296.3L85.0,295.6L85.1,294.9L85.1,294.2L85.2,293.5L85.3,292.8L85.3,292.1L85.4,291.4L85.4,290.7L85.5,290.0L85.5,289.3L85.6,288.6L85.6,287.9L85.7,287.2L85.7,286.5L85.8,285.8L85.8,285.1L85.8,284.4L85.9,283.7L85.9,283.0L85.9,282.3L86.0,281.6L86.0,280.9L86.0,280.2L86.1,279.5L86.1,278.8L86.1,278.1L86.2,277.3L86.2,276.7L86.2,275.9L86.2,275.3L86.3,274.5L86.3,273.9L86.3,273.1L86.3,272.5L86.3,271.7L86.4,271.1L86.4,270.4L86.4,269.7L86.4,268.9L86.4,268.3L86.4,267.5L86.4,266.9L86.5,266.2L86.5,265.5L86.5,264.8L86.5,264.1L86.5,263.4L86.5,262.7L86.5,262.0L86.5,261.3L86.5,260.6L86.5,259.9L86.5,259.2L86.5,258.5L86.5,257.8L86.6,257.1L86.6,256.4L86.6,255.7L86.6,255.0L86.6,254.3L86.6,253.6L86.6,252.9L86.6,252.2L86.6,251.5L86.6,250.8L86.6,250.1L86.6,249.4L86.6,248.7L86.6,248.0L86.6,247.3L86.6,246.6L86.6,245.9L86.6,245.2L86.6,244.5L86.6,243.8L86.6,243.1L86.7,242.4L86.7,241.7L86.7,241.0L86.7,240.3L86.7,239.6L86.7,238.9L86.7,238.2L86.7,237.5L86.7,236.8L86.7,236.1L86.7,235.4L86.7,234.7L86.8,234.0L86.8,233.4L86.8,232.6L86.8,232.0L86.8,231.2L86.8,230.6L86.8,229.8L86.9,229.2L86.9,228.4L86.9,227.8L86.9,227.1L86.9,226.4L87.0,225.7L87.0,225.0L87.0,224.3L87.0,223.6L87.0,222.9L87.1,222.2L87.1,221.5L87.1,220.8L87.2,220.1L87.2,219.4L87.2,218.7L87.3,218.0L87.3,217.3L87.3,216.6L87.4,215.9L87.4,215.2L87.5,214.5L87.5,213.8L87.5,213.1L87.6,212.4L87.6,211.7L87.7,211.0L87.7,210.3L87.8,209.6L87.8,208.9L87.9,208.2L88.0,207.5L88.0,206.9L88.1,206.1L88.1,205.5L88.2,204.7L88.3,204.1L88.3,203.3L88.4,202.7L88.5,201.9L88.6,201.3L88.6,200.5L88.7,199.9L88.8,199.1L88.9,198.5L88.9,197.7L89.0,197.1L89.1,196.3L89.2,195.7L89.2,194.9L89.3,194.3L89.4,193.5L89.5,192.9L89.5,192.1L89.6,191.5L89.7,190.8L89.7,190.1L89.8,189.4L89.9,188.7L89.9,187.9L90.0,187.3L90.1,186.5L90.1,185.9L90.2,185.2L90.2,184.5L90.3,183.8L90.3,183.1L90.4,182.4L90.4,181.7L90.5,181.0L90.5,180.3L90.6,179.6L90.6,178.9L90.7,178.2L90.7,177.5L90.8,176.8L90.8,176.1L90.8,175.4L90.9,174.7L90.9,174.0L90.9,173.3L91.0,172.6L91.0,171.9L91.0,171.2L91.1,170.5L91.1,169.7L91.1,169.1L91.2,168.4L91.2,167.7L91.2,167.0L91.2,166.3L91.3,165.5L91.3,164.9L91.3,164.2L91.4,163.5L91.4,162.8L91.4,162.1L91.4,161.3L91.5,160.7L91.5,159.9L91.5,159.3L91.5,158.5L91.6,157.9L91.6,157.1L91.6,156.5L91.7,155.7L91.7,155.1L91.7,154.3L91.7,153.7L91.8,152.9L91.8,152.3L91.8,151.5L91.9,150.9L91.9,150.1L91.9,149.5L92.0,148.7L92.0,148.1L92.0,147.3L92.1,146.7L92.1,145.9L92.1,145.3L92.2,144.5L92.2,143.9L92.2,143.1L92.3,142.5L92.3,141.7L92.4,141.1L92.4,140.3L92.4,139.7L92.5,138.9L92.5,138.3L92.6,137.5L92.6,136.9L92.7,136.1L92.7,135.5L92.7,134.7L92.8,134.1L92.8,133.2L92.9,132.7L92.9,131.9L93.0,131.3L93.0,130.5L93.1,129.9L93.1,129.1L93.2,128.5L93.2,127.7L93.3,127.1L93.3,126.3L93.4,125.7L93.4,124.9L93.5,124.3L93.6,123.5L93.6,122.9L93.7,122.1L93.7,121.5L93.8,120.7L93.8,120.1L93.9,119.3L94.0,118.7L94.0,117.9L94.1,117.3L94.2,116.5L94.2,115.9L94.3,115.1L94.4,114.6L94.4,113.7L94.5,113.2L94.6,112.4L94.6,111.8L94.7,111.0L94.8,110.4L94.9,109.6L94.9,109.0L95.0,108.2L95.1,107.6L95.2,106.8L95.2,106.3L95.3,105.5L95.4,104.9L95.5,104.1L95.6,103.5L95.6,102.7L95.7,102.2L95.8,101.4L95.9,100.8L96.0,100.0L96.1,99.5L96.2,98.6L96.3,98.1L96.3,97.3L96.4,96.7L96.5,95.9L96.6,95.4L96.7,94.6L96.8,94.0L96.9,93.2L97.0,92.7L97.1,91.9L97.2,91.3L97.3,90.5L97.4,90.0L97.5,89.1L97.7,88.6L97.8,87.8L97.9,87.2L98.0,86.4L98.1,85.9L98.3,85.0L98.4,84.5L98.6,83.6L98.7,83.1L98.9,82.2L99.1,81.7L99.3,80.8L99.4,80.2L99.6,79.3L99.9,78.8L100.1,77.9L100.3,77.3L100.6,76.3L100.8,75.8L101.1,74.8L101.4,74.2L101.7,73.2L102.0,72.7L102.3,71.7L102.6,71.3L103.0,70.3L103.3,69.9L103.7,69.2L104.1,68.9L104.6,68.3L105.0,68.1L105.5,67.6L105.9,67.7L106.4,67.4L106.9,67.7L107.5,67.5L108.0,68.1L108.6,68.1L109.1,68.7L109.7,68.8L110.2,69.6L110.7,69.8L111.2,70.7L111.7,70.9L112.2,71.8L112.7,72.0L113.1,73.0L113.5,73.2L113.9,74.2L114.3,74.4L114.7,75.4L115.1,75.6L115.5,76.6L115.9,76.7L116.3,77.8L116.7,78.0L117.0,79.1L117.4,79.2L117.8,80.2L118.2,80.4L118.6,81.4L118.9,81.5L119.3,82.6L119.7,82.7L120.1,83.8L120.5,84.0L120.8,85.2L121.2,85.1L121.6,86.4L122.0,86.4L122.3,87.5L122.7,87.6L123.1,88.8L123.5,88.6L123.9,90.0L124.2,89.7L124.6,91.1L125.0,91.0L125.4,92.3L125.8,92.2L126.1,93.6L126.5,93.3L126.9,94.7L127.3,94.6L127.7,96.0L128.1,95.5L128.4,97.1L128.8,96.8L129.2,98.2L129.6,97.8L130.0,99.4L130.4,99.2L130.8,100.6L131.2,100.2L131.6,101.7L132.0,101.3L132.4,102.8L132.8,102.5L133.2,104.0L133.6,103.5L134.0,105.1L134.4,104.7L134.8,106.2L135.3,105.9L135.7,107.3L136.1,106.9L136.5,108.4L137.0,108.0L137.4,109.5L137.8,109.1L138.3,110.7L138.7,110.2L139.2,111.7L139.6,111.2L140.1,112.7L140.5,112.3L141.0,113.9L141.4,113.4L141.9,114.9L142.4,114.4L142.8,115.9L143.3,115.1L143.8,116.8L144.3,116.1L144.8,117.9L145.2,117.4L145.7,118.8L146.2,118.2L146.7,120.0L147.2,119.3L147.8,120.8L148.3,120.0L148.8,121.7L149.3,121.1L149.8,122.6L150.4,122.2L150.9,123.6L151.4,123.0L152.0,124.5L152.5,123.8L153.0,125.6L153.6,124.8L154.1,126.3L154.7,125.4L155.2,127.3L155.8,126.4L156.4,128.3L156.9,127.5L157.5,129.0L158.1,128.3L158.6,129.8L159.2,129.1L159.8,130.7L160.4,129.8L160.9,131.5L161.5,130.6L162.1,132.3L162.7,131.4L163.3,132.9L163.9,132.0L164.5,133.7L165.1,133.1L165.7,134.7L166.3,133.8L166.9,135.2L167.5,134.4L168.1,136.1L168.7,135.3L169.4,136.7L170.0,136.0L170.6,137.4L171.2,136.5L171.8,138.0L172.5,137.3L173.1,138.7L173.7,137.8L174.3,139.4L175.0,138.4L175.6,140.1L176.2,138.9L176.9,140.7L177.5,139.8L178.1,141.2L178.8,140.4L179.4,141.7L180.0,140.7L180.7,142.4L181.3,141.4L182.0,142.8L182.6,142.0L183.3,143.5L183.9,142.5L184.6,143.8L185.2,142.9L185.9,144.4L186.5,143.5L187.2,145.0L187.8,143.8L188.5,145.2L189.1,144.2L189.8,145.8L190.4,144.9L191.1,146.4L191.8,145.3L192.4,146.7L193.1,145.4L193.7,147.0L194.4,145.9L195.1,147.5L195.7,146.6L196.4,147.9L197.1,147.0L197.7,148.4L198.4,147.2L199.1,148.6L199.7,147.3L200.4,149.1L201.1,147.9L201.8,149.5L202.4,148.4L203.1,149.8L203.8,148.5L204.5,150.0L205.1,148.7L205.8,150.3L206.5,149.3L207.2,150.8L207.8,149.3L208.5,151.0L209.2,149.7L209.9,151.3L210.6,150.2L211.2,151.4L211.9,150.3L212.6,151.8L213.3,150.4L214.0,152.4L214.7,150.8L215.4,152.3L216.0,151.1L216.7,152.7L217.4,151.4L218.1,152.9L218.8,151.5L219.5,153.2L220.2,151.7L220.9,153.2L221.5,151.9L222.2,153.7L222.9,152.2L223.6,154.1L224.3,152.3L225.0,154.0L225.7,152.6L226.4,154.2L227.1,153.1L227.8,154.3L228.5,153.0L229.2,155.0L229.9,153.3L230.6,155.0L231.3,153.6L232.0,155.2L232.7,153.8L233.4,155.2L234.1,153.8L234.8,155.4L235.4,153.9L236.1,155.8L236.8,154.1L237.5,156.0L238.2,154.3L238.9,155.9L239.6,154.4L240.3,156.2L241.0,154.9L241.7,156.3L242.4,154.8L243.1,156.6L243.8,155.1L244.5,156.6L245.2,155.2L245.9,156.9L246.7,155.4L247.4,157.2L248.1,155.3L248.8,157.1L249.5,155.5L250.2,157.4L250.9,155.7L251.6,157.5L252.3,155.8L253.0,157.4L253.7,156.0L254.4,157.7L255.1,156.0L255.8,157.9L256.5,156.1L257.2,157.8L257.9,156.0L258.6,158.0L259.3,156.5L260.0,158.3L260.7,156.4L261.4,158.3L262.1,156.6L262.8,158.4L263.5,156.6L264.2,158.3L264.9,156.8L265.6,158.6L266.3,156.6L267.0,158.7L267.7,156.7L268.4,158.7L269.1,156.9L269.8,158.9L270.5,157.2L271.2,158.9L271.9,157.0L272.6,159.0L273.3,157.0L274.0,158.7L274.7,157.0L275.4,159.0L276.1,157.3L276.8,159.2L277.5,157.2L278.2,159.4L278.9,157.2L279.6,158.9L280.3,157.1L281.0,159.2L281.7,157.3L282.4,159.3L283.1,157.3L283.8,159.4L284.5,157.2L285.2,159.1L285.9,157.5L286.6,159.2L287.3,157.3L288.0,159.1L288.7,157.1L289.4,159.1L290.1,157.5L290.7,159.3L291.4,157.5L292.1,159.2L292.8,157.3L293.5,159.1L294.2,157.2L294.9,159.1L295.6,157.2L296.3,159.0L297.0,156.9L297.7,159.4L298.4,157.0L299.1,159.4L299.8,157.1L300.5,159.3L301.2,157.1L301.9,159.2L302.6,157.2L303.3,159.5L304.0,157.0L304.7,159.3L305.4,156.9L306.1,159.3L306.8,156.9L307.5,159.0L308.2,156.5L308.9,158.9L309.6,156.1L310.3,158.9L311.0,156.3L311.7,159.2L312.4,156.3L313.0,158.8L313.7,156.4L314.4,158.6L315.1,156.3L315.8,158.4L316.5,156.2L317.2,158.4L317.9,155.9L318.6,158.7L319.3,155.7L320.0,158.4L320.7,155.5L321.4,158.2L322.1,155.8L322.8,158.3L323.5,155.3L324.2,158.2L324.9,155.0L325.6,158.1L326.3,154.9L327.0,157.6L327.7,154.6L328.4,157.8L329.1,154.2L329.8,157.7L330.5,154.7L331.1,157.4L331.8,154.2L332.5,157.4L333.2,153.9L333.9,157.0L334.6,154.0L335.3,157.2L336.0,154.2L336.7,157.0L337.4,153.8L338.1,156.8L338.8,153.7L339.5,156.7L340.2,153.2L340.9,156.8L341.6,152.8L342.3,156.8L343.0,152.0L343.7,156.4L344.4,152.8L345.1,156.2L345.8,152.8L346.5,156.0L347.2,152.4L347.8,155.9L348.5,151.8L349.2,155.3L349.9,150.8L350.6,155.1L351.3,150.9L352.0,155.8L352.7,151.7L353.4,155.2L354.1,151.3L354.8,154.7L355.5,150.5L356.2,154.7L356.9,150.2L357.6,154.9L358.3,150.5L359.0,154.2L359.7,149.1L360.4,154.1L361.1,149.6L361.8,155.1L362.5,149.7L363.1,153.8L363.8,148.8L364.5,153.5L365.2,148.9L365.9,154.1L366.6,149.4L367.3,153.8L368.0,149.1L368.7,153.8L369.4,148.8L370.1,153.1L370.8,148.5L371.5,153.8L372.2,147.7L372.9,153.0L373.6,147.4L374.3,152.8L375.0,147.9L375.7,153.3L376.4,147.9L377.0,153.1L377.7,146.5L378.4,152.0L379.1,146.4L379.8,152.8L380.5,147.2L381.2,152.2L381.9,146.7L382.6,152.0L383.3,145.4L384.0,152.8L384.7,146.6L385.4,151.6L386.1,146.1L386.8,151.9L387.5,145.3L388.2,152.0L388.9,145.2L389.6,152.0L390.2,145.1L390.9,152.1L391.6,145.6L392.3,151.5L393.0,144.7L393.7,150.6L394.4,144.5L395.1,151.6L395.8,144.2L396.5,150.6L397.2,143.7L397.9,150.6L398.6,144.7L399.3,150.0L400.0,142.0L400.7,149.9L401.4,143.2L402.1,149.7L402.7,143.6L403.4,149.9L404.1,143.5L404.8,149.5L405.5,143.2L406.2,151.6L406.9,142.9L407.6,149.3L408.3,142.2L409.0,150.4L409.7,142.6L410.4,150.6L411.1,143.1L411.8,148.9L412.5,142.4L413.2,148.8L413.8,141.2L414.5,149.6L415.2,142.1L415.9,149.4L416.6,140.9L417.3,149.8L418.0,140.1L418.7,149.3L419.4,141.7L420.1,150.0L420.8,140.6L421.5,148.5L422.2,140.3L422.9,148.5L423.6,140.0L424.3,148.4L424.9,139.5L425.6,148.4L426.3,138.1L427.0,147.3L427.7,139.7L428.4,148.0L429.1,140.0L429.8,148.6L430.5,138.9L431.2,147.6L431.9,139.6L432.6,148.4L433.3,138.5L434.0,146.8L434.7,139.5L435.3,146.2L436.0,139.1L436.7,147.8L437.4,136.1L438.1,147.4" fill="none" stroke="#ffa500" stroke-width="1.1" stroke-linejoin="round" stroke-linecap="butt"/>
<path d="M84.5,300.5L84.6,299.8L84.7,299.1L84.7,298.4L84.8,297.7L84.9,297.0L84.9,296.3L85.0,295.6L85.1,294.9L85.1,294.2L85.2,293.5L85.2,292.8L85.3,292.1L85.3,291.4L85.4,290.7L85.5,290.0L85.5,289.3L85.5,288.6L85.6,287.9L85.6,287.2L85.7,286.5L85.7,285.8L85.8,285.2L85.8,284.4L85.8,283.8L85.9,283.0L85.9,282.4L86.0,281.7L86.0,281.0L86.0,280.3L86.0,279.6L86.1,278.9L86.1,278.2L86.1,277.5L86.2,276.8L86.2,276.1L86.2,275.4L86.2,274.7L86.3,274.0L86.3,273.3L86.3,272.6L86.3,271.9L86.3,271.2L86.3,270.5L86.4,269.8L86.4,269.1L86.4,268.4L86.4,267.7L86.4,267.0L86.4,266.3L86.4,265.6L86.5,264.9L86.5,264.2L86.5,263.5L86.5,262.8L86.5,262.1L86.5,261.4L86.5,260.7L86.5,260.0L86.5,259.3L86.5,258.6L86.5,257.9L86.5,257.2L86.6,256.5L86.6,255.8L86.6,255.1L86.6,254.4L86.6,253.7L86.6,253.0L86.6,252.3L86.6,251.6L86.6,250.9L86.6,250.2L86.6,249.5L86.6,248.8L86.6,248.1L86.6,247.4L86.6,246.7L86.6,246.0L86.6,245.3L86.6,244.6L86.6,243.9L86.6,243.2L86.6,242.5L86.7,241.8L86.7,241.1L86.7,240.4L86.7,239.6L86.7,239.0L86.7,238.3L86.7,237.6L86.7,236.9L86.7,236.2L86.7,235.4L86.7,234.8L86.7,234.0L86.8,233.4L86.8,232.6L86.8,232.0L86.8,231.2L86.8,230.6L86.8,229.8L86.8,229.2L86.8,228.4L86.9,227.8L86.9,227.0L86.9,226.4L86.9,225.6L86.9,225.0L87.0,224.2L87.0,223.6L87.0,222.8L87.0,222.2L87.0,221.4L87.1,220.8L87.1,220.0L87.1,219.4L87.2,218.6L87.2,218.0L87.2,217.2L87.2,216.6L87.3,215.8L87.3,215.2L87.4,214.4L87.4,213.8L87.4,213.0L87.5,212.4L87.5,211.6L87.6,211.0L87.6,210.2L87.6,209.6L87.7,208.8L87.7,208.2L87.8,207.4L87.8,206.8L87.9,206.0L88.0,205.4L88.0,204.6L88.1,204.0L88.1,203.2L88.2,202.6L88.3,201.8L88.3,201.2L88.4,200.4L88.4,199.8L88.5,199.0L88.6,198.4L88.6,197.6L88.7,197.0L88.8,196.2L88.8,195.6L88.9,194.8L88.9,194.2L89.0,193.4L89.1,192.8L89.1,192.0L89.2,191.4L89.2,190.6L89.3,190.0L89.3,189.2L89.4,188.6L89.4,187.8L89.5,187.2L89.5,186.4L89.6,185.8L89.6,185.0L89.6,184.4L89.7,183.7L89.7,183.0L89.7,182.3L89.8,181.6L89.8,180.9L89.8,180.2L89.8,179.5L89.9,178.8L89.9,178.1L89.9,177.4L89.9,176.7L89.9,176.0L90.0,175.3L90.0,174.6L90.0,173.9L90.0,173.2L90.0,172.5L90.0,171.9L90.0,171.1L90.0,170.5L90.0,169.7L90.1,169.1L90.1,168.3L90.1,167.7L90.1,166.9L90.1,166.3L90.1,165.5L90.1,164.9L90.1,164.1L90.1,163.5L90.1,162.7L90.2,162.1L90.2,161.3L90.2,160.7L90.2,160.0L90.2,159.3L90.2,158.6L90.2,157.9L90.3,157.2L90.3,156.6L90.3,155.8L90.3,155.2L90.3,154.4L90.4,153.8L90.4,153.0L90.4,152.4L90.5,151.6L90.5,151.0L90.5,150.2L90.6,149.6L90.6,148.8L90.6,148.2L90.7,147.4L90.7,146.8L90.7,146.1L90.8,145.5L90.8,144.7L90.9,144.1L90.9,143.3L90.9,142.7L91.0,141.9L91.0,141.3L91.1,140.5L91.1,139.9L91.1,139.1L91.2,138.5L91.2,137.7L91.3,137.1L91.3,136.3L91.4,135.7L91.4,134.9L91.5,134.3L91.5,133.5L91.6,132.9L91.6,132.1L91.6,131.5L91.7,130.7L91.7,130.1L91.8,129.3L91.8,128.7L91.9,127.9L91.9,127.3L92.0,126.5L92.0,125.9L92.0,125.1L92.1,124.5L92.1,123.6L92.2,123.0L92.2,122.2L92.2,121.6L92.3,120.8L92.3,120.2L92.4,119.4L92.4,118.8L92.4,118.0L92.5,117.3L92.5,116.5L92.5,115.9L92.6,115.1L92.6,114.5L92.6,113.7L92.6,113.0L92.7,112.2L92.7,111.6L92.7,110.8L92.7,110.2L92.8,109.3L92.8,108.7L92.8,107.9L92.8,107.3L92.9,106.4L92.9,105.9L92.9,105.0L92.9,104.4L92.9,103.6L93.0,102.9L93.0,102.1L93.0,101.5L93.0,100.7L93.1,100.1L93.1,99.2L93.1,98.6L93.1,97.8L93.2,97.2L93.2,96.4L93.2,95.8L93.2,95.0L93.3,94.3L93.3,93.5L93.3,92.9L93.3,92.1L93.4,91.5L93.4,90.7L93.4,90.1L93.5,89.3L93.5,88.7L93.5,87.9L93.6,87.3L93.6,86.5L93.6,85.9L93.7,85.1L93.7,84.5L93.8,83.7L93.8,83.2L93.9,82.4L93.9,81.8L94.0,81.0L94.0,80.4L94.1,79.6L94.1,79.1L94.2,78.3L94.3,77.8L94.3,77.0L94.4,76.4L94.5,75.6L94.5,75.1L94.6,74.4L94.7,73.8L94.8,73.0L94.9,72.5L94.9,71.8L95.0,71.3L95.1,70.5L95.2,70.0L95.3,69.2L95.4,68.8L95.5,68.0L95.6,67.5L95.7,66.7L95.9,66.2L96.0,65.5L96.1,64.9L96.2,64.1L96.4,63.6L96.5,62.8L96.7,62.3L96.8,61.4L97.0,60.8L97.1,60.0L97.3,59.4L97.5,58.5L97.7,57.9L97.9,56.9L98.0,56.2L98.2,55.2L98.5,54.5L98.7,53.5L98.9,52.8L99.1,51.7L99.4,51.0L99.6,49.9L99.9,49.3L100.1,48.3L100.4,47.8L100.7,46.9L101.0,46.4L101.3,45.7L101.6,45.4L101.9,44.8L102.2,44.8L102.6,44.4L102.9,44.6L103.3,44.4L103.6,44.8L104.0,44.9L104.4,45.5L104.8,45.8L105.2,46.6L105.5,47.0L105.9,47.9L106.3,48.3L106.7,49.3L107.0,49.7L107.4,50.7L107.7,51.1L108.1,52.1L108.4,52.5L108.7,53.4L109.0,53.8L109.3,54.8L109.6,55.2L109.9,56.1L110.2,56.4L110.5,57.4L110.7,57.7L111.0,58.7L111.3,59.0L111.5,60.0L111.8,60.3L112.1,61.3L112.3,61.6L112.6,62.6L112.8,62.8L113.1,63.8L113.3,64.1L113.6,65.2L113.8,65.4L114.1,66.5L114.3,66.7L114.6,67.8L114.8,68.0L115.0,69.2L115.3,69.4L115.5,70.5L115.8,70.7L116.0,71.8L116.2,72.0L116.5,73.1L116.7,73.3L116.9,74.4L117.2,74.6L117.4,75.8L117.6,76.0L117.9,77.2L118.1,77.2L118.3,78.4L118.6,78.6L118.8,79.8L119.0,79.9L119.3,81.2L119.5,81.2L119.7,82.4L120.0,82.5L120.2,83.9L120.5,83.9L120.7,85.1L120.9,85.2L121.2,86.5L121.4,86.5L121.7,87.7L121.9,87.8L122.2,89.1L122.4,89.2L122.6,90.5L122.9,90.5L123.1,91.7L123.4,91.6L123.7,93.1L123.9,93.0L124.2,94.4L124.4,94.3L124.7,95.7L125.0,95.6L125.2,96.9L125.5,96.9L125.8,98.3L126.0,98.2L126.3,99.6L126.6,99.4L126.9,100.9L127.2,100.8L127.4,102.1L127.7,102.0L128.0,103.4L128.3,103.3L128.6,104.7L128.9,104.5L129.2,106.0L129.5,105.8L129.9,107.2L130.2,107.0L130.5,108.5L130.8,108.2L131.2,109.8L131.5,109.5L131.8,110.9L132.2,110.7L132.5,112.1L132.9,111.9L133.2,113.4L133.6,113.1L133.9,114.6L134.3,114.2L134.7,115.8L135.0,115.3L135.4,117.0L135.8,116.4L136.2,118.1L136.6,117.7L137.0,119.3L137.4,118.8L137.8,120.5L138.2,120.0L138.6,121.6L139.1,120.9L139.5,122.6L139.9,122.1L140.4,123.8L140.8,123.2L141.3,125.2L141.7,124.4L142.2,125.9L142.6,125.4L143.1,126.9L143.6,126.4L144.0,128.3L144.5,127.4L145.0,129.0L145.5,128.5L146.0,130.1L146.5,129.5L147.0,131.2L147.5,130.5L148.0,132.0L148.5,131.4L149.0,132.9L149.5,132.4L150.1,134.2L150.6,133.2L151.1,134.9L151.7,134.4L152.2,135.9L152.7,135.1L153.3,136.6L153.8,136.1L154.4,137.4L155.0,137.0L155.5,138.3L156.1,137.5L156.7,139.1L157.2,138.4L157.8,139.8L158.4,139.3L159.0,140.8L159.6,140.0L160.2,141.7L160.8,140.8L161.4,142.1L162.0,141.5L162.6,142.9L163.2,142.1L163.8,143.6L164.4,142.8L165.0,144.4L165.6,143.3L166.3,144.9L166.9,144.2L167.5,145.4L168.1,144.6L168.8,146.0L169.4,145.4L170.0,146.6L170.7,145.7L171.3,147.1L172.0,146.5L172.6,147.7L173.3,147.1L173.9,148.2L174.6,147.3L175.2,148.8L175.9,148.1L176.5,149.3L177.2,148.5L177.8,149.8L178.5,148.8L179.2,150.1L179.8,149.4L180.5,150.7L181.2,149.8L181.8,151.0L182.5,150.2L183.2,151.4L183.9,150.7L184.5,151.8L185.2,150.9L185.9,152.1L186.6,151.3L187.3,152.5L187.9,151.7L188.6,152.8L189.3,152.1L190.0,153.3L190.7,152.5L191.4,153.6L192.0,152.8L192.7,153.7L193.4,153.0L194.1,154.1L194.8,153.4L195.5,154.5L196.2,153.6L196.9,154.8L197.6,153.8L198.3,155.2L198.9,154.2L199.6,155.3L200.3,154.4L201.0,155.4L201.7,154.6L202.4,155.8L203.1,154.8L203.8,155.9L204.5,155.2L205.2,156.2L205.9,155.3L206.6,156.5L207.3,155.6L207.9,156.6L208.6,155.8L209.3,156.8L210.0,155.8L210.7,157.1L211.4,156.1L212.1,157.1L212.8,156.4L213.5,157.5L214.2,156.5L214.9,157.6L215.6,156.6L216.3,157.6L217.0,156.7L217.7,157.9L218.3,156.9L219.0,158.2L219.7,157.1L220.4,158.3L221.1,157.3L221.8,158.3L222.5,157.5L223.2,158.6L223.9,157.5L224.6,158.7L225.3,157.7L226.0,158.8L226.7,157.8L227.4,158.9L228.1,157.9L228.8,159.0L229.5,158.0L230.2,159.3L230.9,158.2L231.6,159.4L232.2,158.3L232.9,159.4L233.6,158.4L234.3,159.5L235.0,158.5L235.7,159.6L236.4,158.6L237.1,159.8L237.8,158.7L238.5,159.8L239.2,158.9L239.9,160.0L240.6,159.0L241.3,160.1L242.0,159.1L242.7,160.2L243.4,159.2L244.1,160.5L244.8,159.2L245.5,160.5L246.2,159.2L246.9,160.4L247.6,159.4L248.3,160.7L249.0,159.2L249.7,160.6L250.4,159.7L251.1,160.8L251.8,159.6L252.5,160.8L253.2,159.6L253.9,161.0L254.6,159.9L255.3,161.1L256.0,159.9L256.7,161.1L257.4,159.9L258.1,161.3L258.8,160.0L259.5,161.2L260.2,160.2L260.9,161.5L261.6,160.3L262.3,161.4L263.0,160.1L263.7,161.6L264.4,160.2L265.1,161.5L265.8,160.5L266.5,161.6L267.1,160.5L267.8,161.8L268.5,160.6L269.2,161.7L269.9,160.7L270.6,161.9L271.3,160.5L272.0,162.1L272.7,160.6L273.4,162.2L274.1,160.6L274.8,162.2L275.5,160.8L276.2,162.3L276.9,160.7L277.6,162.2L278.3,160.8L279.0,162.2L279.7,160.8L280.4,162.4L281.1,160.9L281.9,162.7L282.6,160.9L283.3,162.3L284.0,161.1L284.7,162.6L285.4,161.0L286.1,162.6L286.8,161.1L287.5,162.9L288.2,161.1L288.9,162.7L289.6,161.0L290.3,162.6L291.0,161.2L291.7,162.7L292.4,161.3L293.1,162.5L293.8,161.0L294.5,162.8L295.2,161.4L295.9,162.8L296.6,161.3L297.3,162.9L298.0,161.3L298.7,162.6L299.4,161.2L300.1,163.0L300.8,161.2L301.5,163.0L302.2,161.4L302.9,163.0L303.6,161.1L304.3,162.9L305.0,161.3L305.7,162.8L306.4,161.2L307.1,163.0L307.8,161.0L308.5,163.0L309.2,161.0L309.9,163.0L310.6,160.6L311.3,162.9L312.0,161.1L312.7,163.2L313.4,160.5L314.1,163.0L314.8,160.8L315.5,163.0L316.2,161.0L316.9,163.0L317.6,161.0L318.3,162.8L319.0,160.9L319.7,163.1L320.4,160.9L321.1,162.7L321.8,160.5L322.5,163.4L323.2,160.5L323.9,162.8L324.6,160.3L325.3,162.9L326.0,160.4L326.7,163.0L327.4,160.5L328.1,163.4L328.8,160.2L329.5,162.8L330.2,160.4L330.9,163.0L331.6,160.1L332.3,162.7L333.0,160.3L333.7,162.6L334.4,160.1L335.1,162.9L335.8,159.9L336.4,162.6L337.1,159.6L337.8,163.1L338.5,159.6L339.2,162.3L339.9,160.0L340.6,162.7L341.3,159.4L342.0,162.3L342.7,159.7L343.4,162.1L344.1,159.5L344.8,162.7L345.5,159.4L346.2,162.2L346.9,158.8L347.6,162.1L348.3,158.6L349.0,162.5L349.7,158.5L350.4,163.2L351.1,159.0L351.8,162.1L352.5,158.4L353.2,162.0L353.9,158.2L354.6,161.9L355.3,158.2L356.0,161.8L356.7,158.4L357.4,162.3L358.1,157.8L358.8,162.0L359.5,157.9L360.2,162.1L360.9,156.5L361.6,161.7L362.3,157.9L363.0,161.6L363.7,157.0L364.4,161.5L365.1,156.9L365.8,161.4L366.5,156.9L367.2,161.5L367.9,156.8L368.6,161.4L369.3,156.6L370.0,161.7L370.7,156.3L371.4,162.1L372.0,156.9L372.7,161.7L373.4,156.6L374.1,162.0L374.8,154.8L375.5,161.8L376.2,155.6L376.9,160.7L377.6,155.1L378.3,160.5L379.0,156.1L379.7,161.3L380.4,154.8L381.1,161.1L381.8,153.7L382.5,161.0L383.2,155.5L383.9,160.9L384.6,154.4L385.3,161.6L386.0,154.3L386.7,160.5L387.4,155.0L388.1,161.0L388.8,153.7L389.5,160.0L390.2,154.6L390.9,160.1L391.6,154.1L392.3,159.8L393.0,154.2L393.7,160.0L394.4,154.3L395.1,160.0L395.7,152.9L396.4,159.3L397.1,153.8L397.8,160.3L398.5,152.6L399.2,160.4L399.9,152.4L400.6,159.6L401.3,151.8L402.0,159.6L402.7,152.3L403.4,160.1L404.1,152.6L404.8,159.9L405.5,151.5L406.2,159.9L406.9,151.8L407.6,159.2L408.3,151.0L409.0,158.8L409.7,151.2L410.4,159.3L411.1,151.9L411.8,158.7L412.5,150.9L413.2,158.1L413.9,150.6L414.6,158.6L415.2,151.5L415.9,157.6L416.6,150.9L417.3,158.8L418.0,149.7L418.7,158.6L419.4,150.9L420.1,158.7L420.8,150.8L421.5,157.8L422.2,149.7L422.9,157.5L423.6,148.9L424.3,158.9L425.0,148.9L425.7,157.6L426.4,150.2L427.1,157.2L427.8,149.1L428.5,157.5L429.2,148.3L429.9,157.3L430.6,148.4L431.3,159.0L432.0,148.8L432.7,156.9L433.4,148.7L434.1,156.2L434.7,149.2L435.4,156.1L436.1,148.9L436.8,155.9L437.5,148.3L438.2,156.0" fill="none" stroke="#c080ff" stroke-width="1.1" stroke-linejoin="round" stroke-linecap="butt"/>
<path d="M85.5,300.5L85.5,299.8L85.5,299.1L85.6,298.4L85.6,297.7L85.6,297.0L85.6,296.3L85.6,295.6L85.6,294.9L85.7,294.2L85.7,293.5L85.7,292.8L85.7,292.1L85.7,291.4L85.7,290.7L85.7,290.0L85.8,289.4L85.8,288.7L85.8,288.0L85.8,287.3L85.8,286.6L85.8,285.9L85.9,285.2L85.9,284.5L85.9,283.8L85.9,283.1L85.9,282.4L85.9,281.7L85.9,281.0L86.0,280.3L86.0,279.6L86.0,278.9L86.0,278.2L86.0,277.5L86.0,276.8L86.1,276.1L86.1,275.4L86.1,274.7L86.1,274.0L86.1,273.3L86.1,272.6L86.1,271.9L86.2,271.2L86.2,270.5L86.2,269.8L86.2,269.1L86.2,268.4L86.2,267.7L86.3,267.0L86.3,266.3L86.3,265.6L86.3,264.9L86.3,264.2L86.3,263.5L86.3,262.8L86.4,262.1L86.4,261.4L86.4,260.7L86.4,260.0L86.4,259.3L86.4,258.6L86.4,257.9L86.5,257.2L86.5,256.5L86.5,255.8L86.5,255.1L86.5,254.4L86.5,253.7L86.5,253.0L86.6,252.3L86.6,251.6L86.6,250.9L86.6,250.2L86.6,249.5L86.6,248.8L86.7,248.1L86.7,247.4L86.7,246.7L86.7,246.0L86.7,245.3L86.7,244.6L86.7,243.9L86.8,243.2L86.8,242.5L86.8,241.8L86.8,241.1L86.8,240.4L86.8,239.7L86.8,239.0L86.9,238.2L86.9,237.6L86.9,236.8L86.9,236.2L86.9,235.4L86.9,234.7L86.9,234.0L87.0,233.3L87.0,232.6L87.0,231.9L87.0,231.2L87.0,230.5L87.0,229.8L87.0,229.1L87.1,228.4L87.1,227.7L87.1,227.0L87.1,226.3L87.1,225.6L87.1,224.9L87.1,224.2L87.2,223.5L87.2,222.8L87.2,222.1L87.2,221.4L87.2,220.7L87.2,220.0L87.2,219.3L87.3,218.6L87.3,217.9L87.3,217.2L87.3,216.5L87.3,215.8L87.3,215.1L87.3,214.4L87.4,213.7L87.4,213.0L87.4,212.3L87.4,211.6L87.4,210.9L87.4,210.2L87.4,209.5L87.5,208.7L87.5,208.1L87.5,207.3L87.5,206.7L87.5,205.9L87.5,205.3L87.5,204.5L87.6,203.9L87.6,203.1L87.6,202.5L87.6,201.7L87.6,201.0L87.6,200.3L87.6,199.6L87.7,198.9L87.7,198.2L87.7,197.5L87.7,196.8L87.7,196.1L87.7,195.4L87.7,194.7L87.8,194.0L87.8,193.3L87.8,192.6L87.8,191.9L87.8,191.2L87.8,190.5L87.8,189.8L87.9,189.1L87.9,188.4L87.9,187.7L87.9,187.0L87.9,186.3L87.9,185.6L87.9,184.9L88.0,184.2L88.0,183.5L88.0,182.8L88.0,182.1L88.0,181.4L88.0,180.7L88.0,180.0L88.1,179.3L88.1,178.6L88.1,177.9L88.1,177.2L88.1,176.5L88.1,175.8L88.1,175.1L88.2,174.4L88.2,173.7L88.2,173.0L88.2,172.3L88.2,171.6L88.2,170.9L88.2,170.2L88.3,169.5L88.3,168.8L88.3,168.1L88.3,167.4L88.3,166.7L88.3,166.0L88.3,165.3L88.4,164.6L88.4,163.9L88.4,163.2L88.4,162.5L88.4,161.9L88.4,161.1L88.4,160.5L88.5,159.7L88.5,159.1L88.5,158.3L88.5,157.7L88.5,156.9L88.5,156.3L88.5,155.6L88.6,154.9L88.6,154.2L88.6,153.5L88.6,152.8L88.6,152.1L88.6,151.4L88.6,150.7L88.7,150.0L88.7,149.3L88.7,148.6L88.7,147.9L88.7,147.2L88.7,146.5L88.7,145.8L88.8,145.1L88.8,144.4L88.8,143.8L88.8,143.0L88.8,142.4L88.8,141.6L88.8,141.0L88.9,140.2L88.9,139.6L88.9,138.9L88.9,138.2L88.9,137.5L88.9,136.8L88.9,136.1L89.0,135.4L89.0,134.7L89.0,134.0L89.0,133.3L89.0,132.6L89.0,131.9L89.1,131.2L89.1,130.5L89.1,129.9L89.1,129.1L89.1,128.5L89.1,127.7L89.1,127.1L89.2,126.3L89.2,125.7L89.2,125.0L89.2,124.3L89.2,123.6L89.2,122.9L89.2,122.2L89.3,121.5L89.3,120.8L89.3,120.1L89.3,119.4L89.3,118.7L89.3,118.0L89.4,117.3L89.4,116.6L89.4,115.9L89.4,115.2L89.4,114.5L89.4,113.8L89.4,113.1L89.5,112.4L89.5,111.8L89.5,111.0L89.5,110.4L89.5,109.6L89.5,109.0L89.5,108.2L89.6,107.6L89.6,106.8L89.6,106.2L89.6,105.4L89.6,104.8L89.6,104.0L89.7,103.4L89.7,102.6L89.7,102.0L89.7,101.2L89.7,100.6L89.7,99.8L89.7,99.2L89.8,98.4L89.8,97.8L89.8,97.0L89.8,96.4L89.8,95.6L89.8,95.0L89.9,94.2L89.9,93.6L89.9,92.8L89.9,92.2L89.9,91.4L89.9,90.7L90.0,90.0L90.0,89.3L90.0,88.6L90.0,87.9L90.0,87.2L90.0,86.5L90.0,85.8L90.1,85.1L90.1,84.4L90.1,83.7L90.1,82.9L90.1,82.3L90.1,81.5L90.2,80.9L90.2,80.1L90.2,79.5L90.2,78.7L90.2,78.0L90.2,77.3L90.3,76.6L90.3,75.9L90.3,75.2L90.3,74.4L90.3,73.8L90.3,73.0L90.4,72.4L90.4,71.6L90.4,70.9L90.4,70.2L90.4,69.5L90.4,68.7L90.5,68.1L90.5,67.3L90.5,66.6L90.5,65.9L90.5,65.2L90.5,64.5L90.6,63.8L90.6,63.0L90.6,62.3L90.6,61.6L90.6,60.9L90.6,60.2L90.7,59.5L90.7,58.7L90.7,58.0L90.7,57.3L90.7,56.6L90.7,55.8L90.8,55.2L90.8,54.4L90.8,53.7L90.8,53.0L90.8,52.3L90.8,51.5L90.9,50.9L90.9,50.1L90.9,49.4L90.9,48.7L90.9,48.0L91.0,47.3L91.0,46.6L91.0,45.8L91.0,45.2L91.0,44.4L91.0,43.8L91.1,43.0L91.1,42.3L91.1,41.6L91.1,40.9L91.1,40.2L91.2,39.5L91.2,38.8L91.2,38.1L91.2,37.4L91.2,36.7L91.3,36.0L91.3,35.3L91.3,34.6L91.3,34.0L91.3,33.2L91.4,32.6L91.4,31.8L91.4,31.2L91.4,30.5L91.4,29.8L91.5,29.1L91.5,28.5L91.5,27.8L91.5,27.1L91.6,26.4L91.6,25.8L91.6,25.1L91.6,24.4L91.6,23.7L91.7,23.1L91.7,22.4L91.7,21.8L91.7,21.1L91.8,20.5L91.8,19.8L91.8,19.2L91.8,18.5L91.9,17.9L91.9,17.2L91.9,16.6L91.9,15.9L92.0,15.4L92.0,14.7L92.0,14.1L92.0,13.4L92.1,12.8L92.1,12.2L92.1,11.6L92.1,10.9L92.2,10.3L92.2,9.7L92.2,9.1L92.3,8.4L92.3,7.9L92.3,7.2L92.3,6.6L92.4,5.9L92.4,5.4L92.4,4.7L92.5,4.1L92.5,3.5L92.5,2.9L92.5,2.2L92.6,1.6L92.6,1.0L92.6,0.4L92.7,-0.3L92.7,-0.9L92.7,-1.6L92.8,-2.2L92.8,-2.8L92.8,-3.4L92.9,-4.1L92.9,-4.7L92.9,-5.4L93.0,-6.0L93.0,-6.7L93.0,-7.3L93.1,-8.0L93.1,-8.6L93.1,-9.4L93.2,-10.0L93.2,-10.7L93.3,-11.3L93.3,-12.1L93.3,-12.7L93.4,-13.4L93.4,-14.1L93.4,-14.8L93.5,-15.5L93.5,-16.2L93.6,-16.9L93.6,-17.7L93.6,-18.3L93.7,-19.1L93.7,-19.8L93.8,-20.6L93.8,-21.3L93.8,-22.1L93.9,-22.8L93.9,-23.6L94.0,-24.3L94.0,-25.2L94.1,-25.9L94.1,-26.7L94.1,-27.5L94.2,-28.3L94.2,-29.1L94.3,-30.0L94.3,-30.7L94.4,-31.6L94.4,-32.4L94.5,-33.3L94.5,-34.1L94.6,-35.1L94.6,-35.9L94.7,-36.8L94.7,-37.7L94.7,-38.6L94.8,-39.5L94.8,-40.5L94.9,-41.3L95.0,-42.3L95.0,-43.2L95.1,-44.2L95.1,-45.1L95.2,-46.2L95.2,-47.0L95.3,-48.1L95.3,-49.0L95.4,-50.0L95.4,-50.9L95.5,-51.9L95.5,-52.8L95.6,-53.8L95.7,-54.7L95.7,-55.7L95.8,-56.5L95.8,-57.5L95.9,-58.4L95.9,-59.3L96.0,-60.1L96.1,-61.1L96.1,-61.8L96.2,-62.7L96.2,-63.5L96.3,-64.3L96.4,-65.0L96.4,-65.9L96.5,-66.5L96.5,-67.3L96.6,-67.9L96.7,-68.6L96.7,-69.2L96.8,-69.9L96.9,-70.4L96.9,-71.0L97.0,-71.4L97.1,-72.0L97.1,-72.4L97.2,-72.9L97.3,-73.2L97.3,-73.6L97.4,-73.8L97.5,-74.2L97.5,-74.3L97.6,-74.6L97.7,-74.7L97.8,-74.9L97.8,-74.8L97.9,-74.9L98.0,-74.8L98.0,-74.8L98.1,-74.6L98.2,-74.6L98.3,-74.3L98.3,-74.1L98.4,-73.7L98.5,-73.5L98.6,-73.0L98.6,-72.8L98.7,-72.2L98.8,-71.9L98.9,-71.3L98.9,-70.8L99.0,-70.2L99.1,-69.7L99.1,-69.0L99.2,-68.4L99.3,-67.7L99.4,-67.1L99.4,-66.3L99.5,-65.6L99.6,-64.8L99.7,-64.1L99.7,-63.2L99.8,-62.5L99.9,-61.5L99.9,-60.8L100.0,-59.8L100.1,-59.0L100.1,-58.0L100.2,-57.2L100.3,-56.2L100.3,-55.4L100.4,-54.3L100.5,-53.5L100.5,-52.5L100.6,-51.6L100.7,-50.6L100.7,-49.7L100.8,-48.7L100.8,-47.8L100.9,-46.7L100.9,-45.9L101.0,-44.8L101.0,-44.0L101.1,-42.9L101.1,-42.1L101.2,-41.0L101.2,-40.2L101.3,-39.2L101.3,-38.4L101.4,-37.4L101.4,-36.6L101.4,-35.6L101.5,-34.8L101.5,-33.8L101.6,-33.1L101.6,-32.1L101.6,-31.4L101.7,-30.5L101.7,-29.8L101.7,-28.8L101.8,-28.1L101.8,-27.2L101.8,-26.5L101.8,-25.6L101.9,-25.0L101.9,-24.1L101.9,-23.4L101.9,-22.6L102.0,-21.9L102.0,-21.1L102.0,-20.4L102.0,-19.6L102.0,-19.0L102.1,-18.1L102.1,-17.5L102.1,-16.7L102.1,-16.1L102.1,-15.3L102.1,-14.7L102.2,-13.9L102.2,-13.3L102.2,-12.5L102.2,-11.9L102.2,-11.1L102.2,-10.6L102.3,-9.8L102.3,-9.2L102.3,-8.5L102.3,-7.9L102.3,-7.1L102.3,-6.6L102.4,-5.9L102.4,-5.3L102.4,-4.6L102.4,-4.0L102.4,-3.3L102.4,-2.7L102.4,-2.0L102.5,-1.5L102.5,-0.7L102.5,-0.2L102.5,0.5L102.5,1.0L102.6,1.8L102.6,2.3L102.6,3.0L102.6,3.5L102.6,4.3L102.7,4.8L102.7,5.5L102.7,6.0L102.7,6.7L102.8,7.3L102.8,8.0L102.8,8.5L102.9,9.2L102.9,9.7L102.9,10.5L102.9,11.0L103.0,11.7L103.0,12.2L103.1,13.0L103.1,13.5L103.1,14.3L103.2,14.8L103.2,15.5L103.3,16.0L103.3,16.8L103.3,17.3L103.4,18.1L103.4,18.6L103.5,19.4L103.5,19.9L103.6,20.7L103.6,21.2L103.7,22.0L103.8,22.6L103.8,23.4L103.9,23.9L103.9,24.7L104.0,25.2L104.1,26.0L104.1,26.6L104.2,27.4L104.3,27.9L104.3,28.7L104.4,29.3L104.5,30.1L104.5,30.7L104.6,31.5L104.7,32.1L104.8,32.9L104.8,33.4L104.9,34.3L105.0,34.8L105.1,35.7L105.1,36.2L105.2,37.0L105.3,37.6L105.4,38.5L105.5,39.0L105.5,39.9L105.6,40.4L105.7,41.3L105.8,41.9L105.9,42.7L106.0,43.3L106.1,44.1L106.1,44.7L106.2,45.6L106.3,46.1L106.4,47.0L106.5,47.5L106.6,48.4L106.7,49.0L106.8,49.8L106.9,50.4L106.9,51.3L107.0,51.8L107.1,52.7L107.2,53.2L107.3,54.1L107.4,54.6L107.5,55.5L107.6,56.1L107.7,56.9L107.8,57.5L107.9,58.4L108.0,58.9L108.1,59.8L108.2,60.3L108.3,61.2L108.3,61.7L108.4,62.6L108.5,63.2L108.6,64.0L108.7,64.6L108.8,65.4L108.9,66.0L109.0,66.8L109.1,67.4L109.2,68.2L109.3,68.8L109.4,69.7L109.5,70.2L109.6,71.1L109.7,71.6L109.8,72.5L109.9,73.0L110.0,73.8L110.1,74.4L110.2,75.2L110.2,75.8L110.3,76.7L110.4,77.2L110.5,78.1L110.6,78.5L110.7,79.4L110.8,80.0L110.9,80.8L111.0,81.3L111.1,82.3L111.2,82.7L111.3,83.6L111.4,84.1L111.5,85.0L111.6,85.5L111.7,86.4L111.9,86.9L112.0,87.8L112.1,88.3L112.2,89.2L112.3,89.6L112.4,90.5L112.5,91.0L112.6,91.9L112.7,92.4L112.8,93.3L112.9,93.8L113.0,94.6L113.1,95.1L113.2,96.0L113.4,96.5L113.5,97.4L113.6,97.9L113.7,98.8L113.8,99.3L113.9,100.1L114.0,100.6L114.2,101.5L114.3,102.0L114.4,102.9L114.5,103.3L114.6,104.2L114.8,104.8L114.9,105.6L115.0,106.1L115.1,107.0L115.2,107.5L115.4,108.4L115.5,108.8L115.6,109.8L115.7,110.2L115.9,111.1L116.0,111.6L116.1,112.5L116.3,112.9L116.4,113.8L116.5,114.3L116.7,115.2L116.8,115.7L116.9,116.6L117.1,117.0L117.2,117.9L117.4,118.4L117.5,119.3L117.6,119.8L117.8,120.7L117.9,121.1L118.1,122.1L118.2,122.5L118.4,123.4L118.5,123.9L118.7,124.8L118.8,125.3L119.0,126.2L119.1,126.6L119.3,127.5L119.4,128.0L119.6,128.9L119.7,129.3L119.9,130.3L120.0,130.7L120.2,131.6L120.4,132.0L120.5,133.0L120.7,133.4L120.8,134.3L121.0,134.8L121.2,135.7L121.3,136.1L121.5,137.1L121.7,137.5L121.8,138.4L122.0,138.8L122.2,139.8L122.4,140.2L122.5,141.1L122.7,141.5L122.9,142.4L123.1,142.8L123.3,143.8L123.4,144.2L123.6,145.2L123.8,145.5L124.0,146.5L124.2,146.9L124.4,147.8L124.6,148.2L124.8,149.1L125.0,149.5L125.2,150.4L125.4,150.8L125.6,151.8L125.9,152.2L126.1,153.1L126.3,153.5L126.5,154.4L126.8,154.8L127.0,155.8L127.2,156.2L127.5,157.1L127.7,157.5L128.0,158.4L128.2,158.8L128.5,159.8L128.7,160.1L129.0,161.0L129.2,161.4L129.5,162.3L129.8,162.7L130.1,163.7L130.4,164.0L130.6,165.0L130.9,165.3L131.2,166.3L131.5,166.6L131.8,167.6L132.1,167.9L132.4,168.9L132.8,169.1L133.1,170.1L133.4,170.4L133.7,171.5L134.1,171.7L134.4,172.7L134.8,172.9L135.1,173.9L135.5,174.2L135.8,175.2L136.2,175.4L136.6,176.4L136.9,176.6L137.3,177.6L137.7,177.7L138.1,178.7L138.5,178.9L138.9,180.0L139.3,180.0L139.7,181.2L140.1,181.1L140.5,182.3L141.0,182.3L141.4,183.4L141.8,183.3L142.3,184.5L142.7,184.4L143.2,185.5L143.7,185.4L144.1,186.5L144.6,186.4L145.1,187.6L145.6,187.4L146.1,188.6L146.6,188.3L147.1,189.6L147.6,189.2L148.1,190.3L148.6,190.1L149.1,191.4L149.7,191.1L150.2,192.4L150.7,191.8L151.3,193.1L151.8,192.7L152.4,193.9L153.0,193.5L153.5,194.6L154.1,194.3L154.7,195.5L155.3,195.1L155.8,196.3L156.4,195.8L157.0,197.0L157.6,196.5L158.2,197.7L158.8,197.1L159.4,198.3L160.0,197.9L160.6,199.1L161.2,198.6L161.9,199.6L162.5,199.1L163.1,200.3L163.7,199.7L164.4,200.8L165.0,200.4L165.6,201.5L166.3,201.0L166.9,202.0L167.5,201.6L168.2,202.8L168.8,202.1L169.5,203.1L170.1,202.6L170.8,203.7L171.4,203.2L172.1,204.1L172.7,203.6L173.4,204.7L174.0,204.1L174.7,205.1L175.4,204.7L176.0,205.7L176.7,205.0L177.4,206.0L178.0,205.5L178.7,206.4L179.4,205.9L180.1,206.8L180.7,206.3L181.4,207.2L182.1,206.6L182.8,207.6L183.4,206.9L184.1,207.9L184.8,207.4L185.5,208.3L186.2,207.7L186.9,208.6L187.6,207.9L188.3,208.9L188.9,208.3L189.6,209.2L190.3,208.5L191.0,209.5L191.7,208.9L192.4,209.8L193.1,209.1L193.8,210.0L194.5,209.4L195.2,210.1L195.9,209.6L196.6,210.4L197.3,209.6L198.0,210.6L198.7,209.9L199.4,210.8L200.1,210.1L200.8,211.0L201.5,210.3L202.2,211.1L202.9,210.5L203.6,211.2L204.3,210.5L205.0,211.4L205.7,210.7L206.4,211.5L207.1,210.8L207.8,211.6L208.5,210.9L209.2,211.7L209.9,210.8L210.6,211.7L211.3,211.0L212.0,211.7L212.7,211.1L213.4,211.8L214.1,211.0L214.8,211.9L215.5,211.0L216.2,211.8L216.9,211.0L217.6,211.9L218.3,211.0L219.0,211.8L219.7,211.0L220.4,211.7L221.1,210.9L221.8,211.8L222.5,210.8L223.2,211.6L223.9,210.9L224.6,211.6L225.3,210.8L226.0,211.6L226.7,210.7L227.4,211.5L228.1,210.7L228.8,211.4L229.5,210.5L230.2,211.3L230.9,210.4L231.6,211.2L232.3,210.2L232.9,211.2L233.6,210.2L234.3,211.0L235.0,210.0L235.7,211.0L236.4,210.0L237.1,210.7L237.8,209.7L238.5,210.6L239.2,209.6L239.9,210.3L240.6,209.6L241.3,210.3L242.0,209.4L242.7,210.1L243.4,209.1L244.0,210.1L244.7,209.1L245.4,209.8L246.1,208.8L246.8,209.6L247.5,208.7L248.2,209.3L248.9,208.4L249.6,209.2L250.3,208.2L251.0,209.1L251.7,208.1L252.4,208.7L253.0,208.0L253.7,208.6L254.4,207.6L255.1,208.5L255.8,207.5L256.5,208.2L257.2,207.3L257.9,208.0L258.6,207.1L259.3,208.0L260.0,207.0L260.7,207.7L261.4,206.7L262.0,207.5L262.7,206.5L263.4,207.4L264.1,206.3L264.8,207.1L265.5,206.1L266.2,206.9L266.9,205.9L267.6,206.7L268.3,205.7L269.0,206.6L269.7,205.6L270.4,206.5L271.1,205.2L271.7,206.2L272.4,205.0L273.1,205.9L273.8,204.9L274.5,205.9L275.2,204.7L275.9,205.9L276.6,204.4L277.3,205.7L278.0,204.3L278.7,205.2L279.4,204.0L280.1,205.2L280.8,203.8L281.5,204.8L282.1,203.6L282.8,204.6L283.5,203.4L284.2,204.4L284.9,203.2L285.6,204.6L286.3,203.0L287.0,204.3L287.7,202.8L288.4,203.8L289.1,202.8L289.8,203.9L290.5,202.4L291.2,203.6L291.9,202.3L292.6,203.4L293.2,202.2L293.9,203.1L294.6,201.8L295.3,202.9L296.0,201.8L296.7,202.8L297.4,201.4L298.1,202.6L298.8,201.2L299.5,202.5L300.2,201.2L300.9,202.2L301.6,200.8L302.3,202.0L303.0,200.6L303.7,201.8L304.3,200.4L305.0,201.8L305.7,200.2L306.4,201.6L307.1,200.1L307.8,201.5L308.5,199.5L309.2,201.4L309.9,199.6L310.6,200.8L311.3,199.5L312.0,200.9L312.7,199.1L313.4,200.6L314.1,198.9L314.8,200.3L315.4,198.7L316.1,200.3L316.8,198.7L317.5,200.3L318.2,198.5L318.9,199.7L319.6,198.1L320.3,199.6L321.0,197.9L321.7,199.4L322.4,197.8L323.1,199.1L323.8,197.5L324.5,199.0L325.1,197.3L325.8,198.8L326.5,197.1L327.2,198.7L327.9,196.9L328.6,198.5L329.3,196.6L330.0,198.1L330.7,196.6L331.4,198.1L332.1,196.3L332.8,198.0L333.5,196.0L334.2,197.8L334.8,195.8L335.5,197.5L336.2,195.7L336.9,197.4L337.6,195.5L338.3,197.1L339.0,195.2L339.7,196.7L340.4,195.1L341.1,196.4L341.8,195.0L342.5,196.4L343.2,194.5L343.8,196.0L344.5,194.5L345.2,195.8L345.9,194.1L346.6,195.9L347.3,193.7L348.0,195.6L348.7,193.6L349.4,195.3L350.1,193.6L350.8,195.2L351.5,193.3L352.1,194.9L352.8,193.2L353.5,194.8L354.2,192.6L354.9,194.7L355.6,192.7L356.3,194.2L357.0,192.5L357.7,194.3L358.4,192.2L359.1,193.8L359.7,191.7L360.4,193.6L361.1,191.8L361.8,193.4L362.5,191.6L363.2,193.3L363.9,191.2L364.6,193.0L365.3,190.9L366.0,193.3" fill="none" stroke="#8b0000" stroke-width="1.1" stroke-linejoin="round" stroke-linecap="butt"/>
</g>
<g>
<path d="M242.5,238.55H283.7" stroke="#ff0000" stroke-width="1" stroke-opacity="0.9"/>
<path d="M242.5,261.45H283.7" stroke="#0000ff" stroke-width="1" stroke-opacity="0.9"/>
<path d="M242.5,284.5H283.7" stroke="#006400" stroke-width="1" stroke-opacity="0.9"/>
<path d="M411.6,238.55H452.4" stroke="#ffa500" stroke-width="1" stroke-opacity="0.9"/>
<path d="M411.6,261.45H452.4" stroke="#c080ff" stroke-width="1" stroke-opacity="0.9"/>
<path d="M411.6,284.5H452.4" stroke="#8b0000" stroke-width="1" stroke-opacity="0.9"/>
</g>
<g style="filter:grayscale(1)">
<text class="it" transform="translate(233.60,242.80) scale(0.963,1)" text-anchor="end">R<tspan class="sub" dy="4.8">&#955;</tspan><tspan dy="-4.8">(0) = 25.8</tspan></text>
<text class="it" transform="translate(233.60,265.70) scale(0.963,1)" text-anchor="end">R<tspan class="sub" dy="4.8">&#955;</tspan><tspan dy="-4.8">(0) = 36.9</tspan></text>
<text class="it" transform="translate(233.60,288.75) scale(0.963,1)" text-anchor="end">R<tspan class="sub" dy="4.8">&#955;</tspan><tspan dy="-4.8">(0) = 51.6</tspan></text>
<text class="it" transform="translate(402.30,242.80) scale(0.963,1)" text-anchor="end">R<tspan class="sub" dy="4.8">&#955;</tspan><tspan dy="-4.8">(0) = 103.3</tspan></text>
<text class="it" transform="translate(402.30,265.70) scale(0.963,1)" text-anchor="end">R<tspan class="sub" dy="4.8">&#955;</tspan><tspan dy="-4.8">(0) = 143.4</tspan></text>
<text class="it" transform="translate(402.30,288.75) scale(0.963,1)" text-anchor="end">R<tspan class="sub" dy="4.8">&#955;</tspan><tspan dy="-4.8">(0) = 358.6</tspan></text>
</g>
<path d="M131.14,300.5v-4.5M131.14,18v4.5M187.79,300.5v-4.5M187.79,18v4.5M244.43,300.5v-4.5M244.43,18v4.5M301.07,300.5v-4.5M301.07,18v4.5M357.71,300.5v-4.5M357.71,18v4.5M414.36,300.5v-4.5M414.36,18v4.5M74.5,244.00h4.5M470.7,244.00h-4.5M74.5,187.50h4.5M470.7,187.50h-4.5M74.5,131.00h4.5M470.7,131.00h-4.5M74.5,74.50h4.5M470.7,74.50h-4.5" stroke="#000" stroke-width="1" fill="none"/>
<g fill="#000">
<rect x="74" y="17.5" width="1" height="283.5"/>
<rect x="74" y="17.5" width="397.4" height="1" />
<rect x="470" y="17.5" width="1.4" height="283.5"/>
<rect x="74" y="299.7" width="397.4" height="1.3"/>
</g>
<g style="filter:grayscale(1)">
<text transform="translate(76.25,321.20) scale(0.945,1)" text-anchor="middle">0</text>
<text transform="translate(132.89,321.20) scale(0.945,1)" text-anchor="middle">10</text>
<text transform="translate(189.54,321.20) scale(0.945,1)" text-anchor="middle">20</text>
<text transform="translate(246.18,321.20) scale(0.945,1)" text-anchor="middle">30</text>
<text transform="translate(302.82,321.20) scale(0.945,1)" text-anchor="middle">40</text>
<text transform="translate(359.46,321.20) scale(0.945,1)" text-anchor="middle">50</text>
<text transform="translate(416.11,321.20) scale(0.945,1)" text-anchor="middle">60</text>
<text transform="translate(472.75,321.20) scale(0.945,1)" text-anchor="middle">70</text>
<text transform="translate(65.70,306.00) scale(0.945,1)" text-anchor="end">1</text>
<text transform="translate(65.70,249.50) scale(0.945,1)" text-anchor="end">1.2</text>
<text transform="translate(65.70,193.00) scale(0.945,1)" text-anchor="end">1.4</text>
<text transform="translate(65.70,136.50) scale(0.945,1)" text-anchor="end">1.6</text>
<text transform="translate(65.70,80.00) scale(0.945,1)" text-anchor="end">1.8</text>
<text transform="translate(65.70,23.50) scale(0.945,1)" text-anchor="end">2</text>
<text class="it" transform="translate(272.60,343.90) scale(1.06,1)" text-anchor="middle">t/<tspan class="up">&#964;</tspan>(0)</text>
<text class="it" transform="translate(18.1,159.8) rotate(-90) scale(1.03,1)" text-anchor="middle">n(t)</text>
</g>
</svg>
</body>
</html>
